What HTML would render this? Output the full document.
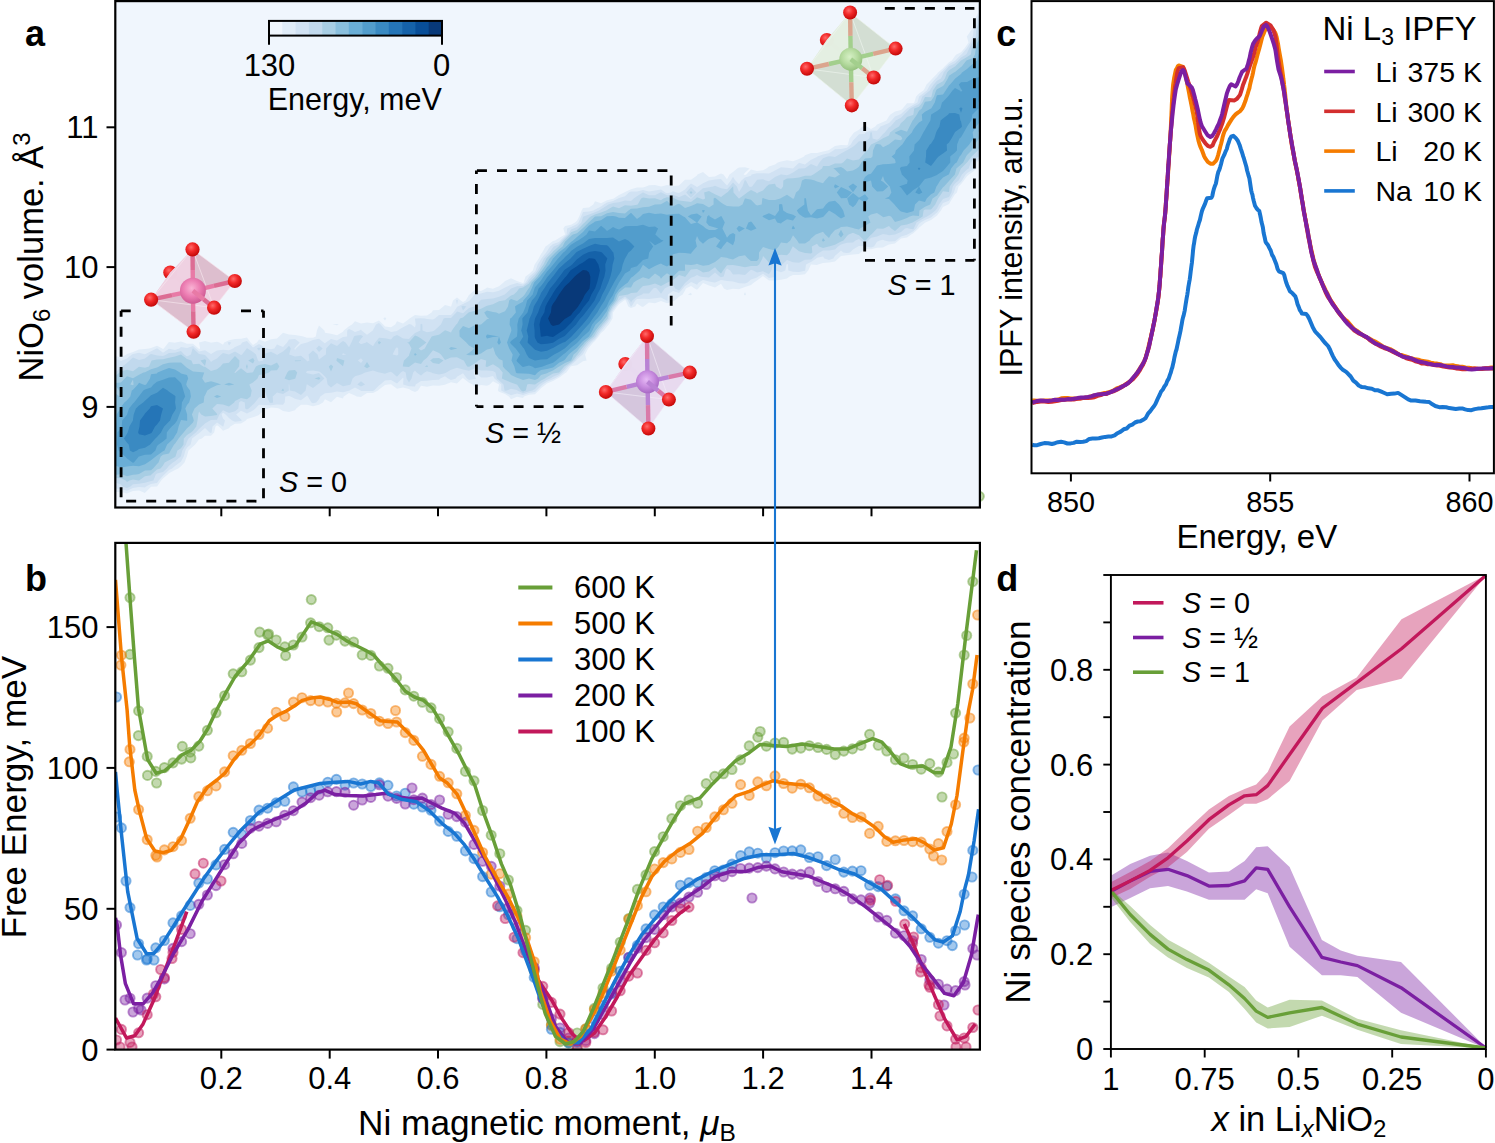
<!DOCTYPE html>
<html><head><meta charset="utf-8"><title>Figure</title>
<style>html,body{margin:0;padding:0;background:#fff;overflow:hidden}svg{display:block}text{font-family:"Liberation Sans", sans-serif}</style>
</head><body>
<svg width="1495" height="1143" viewBox="0 0 1495 1143" font-family='"Liberation Sans", sans-serif'>
<defs><clipPath id="ca"><rect x="115.3" y="1.1" width="864.6" height="506.4"/></clipPath><clipPath id="cb"><rect x="115.3" y="542.9" width="864.6" height="506.7"/></clipPath><clipPath id="cc"><rect x="1031.5" y="1" width="462" height="472.3"/></clipPath></defs>
<circle cx="979.3" cy="496.3" r="4.6" fill="#689F38" fill-opacity="0.4" stroke="#689F38" stroke-opacity="0.5" stroke-width="1.9"/>
<rect x="115.3" y="1.1" width="864.6" height="506.4" fill="#f0f6fd"/>
<g clip-path="url(#ca)"><path fill="#e0ecf8" fill-rule="evenodd" d="M145 493 143.8 492.5 139 490.6 133 490.9 129.2 492.5 127 493.6 123.2 492.5 121 491.9 115 491.9 109 487.9 109 486.5 108.2 480.5 107.7 474.5 107.5 468.5 107.2 462.5 107.2 456.5 107.1 450.5 107.2 444.5 107.3 438.5 107.4 432.5 107.4 426.5 107.4 420.5 107.5 414.5 107.3 408.5 107.2 402.5 107.4 396.5 107.7 390.5 107.4 384.5 107.5 378.5 107.7 372.5 107.9 366.5 108.6 360.5 109 356.1 115 355.9 121 357.6 126.5 354.5 127 354 133 351.9 139 349.6 145 348.9 149 348.5 151 348.1 157 345.7 162.3 348.5 163 349 163.8 348.5 168.5 342.5 169 342 173.5 342.5 175 342.8 175.5 342.5 181 341.6 183.9 342.5 187 343.7 193 343.7 198.6 348.5 199 348.9 200.1 348.5 199 342.5 205 341.1 210.6 342.5 211 342.8 211.9 342.5 217 341.7 219.3 342.5 223 344.7 224.2 342.5 229 340.2 235 339.1 241 338.7 247 337.4 250.6 342.5 253 344.9 256.9 342.5 259 339.5 265 341.8 271 339.2 277 338.6 279.1 336.5 283 332.7 289 334.6 295 335 301 336.1 303.3 336.5 307 337.8 313 337.8 315.8 336.5 316.9 330.5 319 325.4 324.4 330.5 325 332.7 331 333.8 337 335.2 343 331.7 343.7 330.5 349 326.2 352 324.5 355 321.2 361 323.5 367 322.6 373 323.3 379 320.5 383.2 324.5 385 326.6 391 327.3 395.2 324.5 397 321.2 403 323.6 409 319 409.5 318.5 415 315.1 421 315.8 427 315.5 431.6 312.5 433 310.3 439 310 443.3 306.5 445 305 450.8 306.5 451 307 451.1 306.5 453 300.5 457 297.6 460.8 300.5 463 302 465.7 300.5 469 295.1 469.6 294.5 475 289.8 481 291 485.9 288.5 487 287.6 491.8 288.5 493 288.7 493.4 288.5 499 286.3 503.5 282.5 505 281.1 511 278.3 517 281 521.3 282.5 523 283 523.6 282.5 525.5 276.5 529 273.9 532.8 270.5 534.6 264.5 535 264 538.7 258.5 541 254.1 542.2 252.5 545.5 246.5 547 245.5 553 241 555.1 240.5 559 238 565 234.6 565.1 234.5 565 234.2 563.3 228.5 565 226 571 224.7 575 222.5 577 220.7 579.2 216.5 581.6 210.5 583 207.9 589 207.4 593.3 204.5 595 201.3 601 203.3 607 200.2 613 198.8 613.7 198.5 619 195 624.2 192.5 625 191.9 631 189.2 637 187.4 643 187.4 646.1 186.5 649 185.3 655 185.1 660.9 186.5 661 186.5 661.3 186.5 667 184.9 673 185.9 679 185.5 684.2 180.5 685 179.8 691 179.8 697 175.6 697.4 174.5 703 172 705.9 174.5 709 177 715 176.4 718.9 174.5 721 173.5 723.5 174.5 727 179.2 729.5 174.5 733 171.9 737.2 168.5 739 167.5 745 167.2 749.6 168.5 745 172.8 743.6 174.5 745 175.1 746.3 174.5 751 169.6 757 171 763 170.3 766.4 168.5 769 166.5 775 164.5 777.8 162.5 781 161.5 787 160.2 793 161.2 799 158.9 804.1 156.5 805 155.3 811 153.1 817 152.9 823 151.4 827.6 150.5 829 149.9 835 145.9 841 145.1 847 145.2 847.9 144.5 849.4 138.5 853 133.7 854.1 132.5 859 129.7 862.3 126.5 865 125.7 866.9 126.5 871 128.9 875.3 126.5 877 124.4 883 122 886.4 120.5 889 116.2 890.4 114.5 895 111.5 901 110 902.7 108.5 907 103.3 913 103.3 914.3 102.5 916.1 96.5 919 93.6 923.4 90.5 925 87.7 926.5 84.5 931 80 932.3 78.5 937 73.8 938 72.5 943 68.3 944.6 66.5 949 62.2 951.8 60.5 955 55.9 956.4 54.5 961 52.3 964.3 48.5 967 44.8 968.5 42.5 967 37.1 966.7 36.5 967 36.2 971 30.5 973 27.6 974.5 24.5 975.2 18.5 978.4 12.5 978.3 6.5 978.8 0.5 979 0.3 985 -5.2 985.6 0.5 985.7 6.5 986.4 12.5 986.4 18.5 986.5 24.5 986.8 30.5 986.9 36.5 986.9 42.5 986.9 48.5 986.9 54.5 987.1 60.5 987.1 66.5 987.1 72.5 987 78.5 987.1 84.5 987.2 90.5 987 96.5 987 102.5 987 108.5 986.9 114.5 986.7 120.5 986.5 126.5 986.4 132.5 986 138.5 985.2 144.5 985 150.5 985 151.3 983.7 156.5 979 160.8 976.8 162.5 976.7 168.5 973 171.7 969 174.5 967 176.3 963.9 180.5 961 184.3 958.6 186.5 956.9 192.5 955 194.3 952.3 198.5 949 204.1 948.1 204.5 943 207.1 941 210.5 937 215.5 935.8 216.5 931 220 925.5 222.5 925 222.8 919 227.7 918.5 228.5 913 233.5 911.2 234.5 907 237.4 901 238.5 898.6 240.5 895 243.4 889 244.5 884.8 246.5 883 247.6 877 247.8 871 249.3 865 249 860.6 252.5 859 253.9 853 254.5 847 255.3 841 255.9 838.3 258.5 835 261.5 829 262.4 823 263 818 264.5 817 264.9 811.4 264.5 811 264.5 811 264.5 808.2 270.5 805 274.3 799 274.9 793 275 789.6 276.5 787 278.4 781 279.7 775 280.5 769 280.6 763.5 276.5 763 276.1 762.4 276.5 757 280.5 754 282.5 751 285 745 287 740.8 288.5 739 289.2 733 288.7 727 290 723.9 288.5 721 283.8 715 287.6 709 285.5 703 283 698.3 288.5 697 289.7 694.7 288.5 691 285.9 685.9 288.5 685 290.4 682.7 294.5 679 296.7 674.8 300.5 673 301.5 667 303.2 661 301 655 303.3 649 302.6 643.6 306.5 643 306.9 641.5 306.5 637 303.4 635.2 306.5 631 308.1 628.3 306.5 625.9 300.5 625 299.9 624 300.5 619 304.3 617.2 306.5 613 312.4 613 312.5 612.5 318.5 608.9 324.5 607 326.6 604 330.5 601 333 598.6 336.5 595 341.1 593.3 342.5 589 347.4 588.1 348.5 585.1 354.5 586.6 360.5 583 361.3 577 365.2 571 366.3 570.7 366.5 566.3 372.5 565 373.3 559 377.7 557.5 378.5 553 381 547 383.6 545.7 384.5 541 388.2 538.8 390.5 535 394.3 529 394.7 524 396.5 523 398 517 396.8 511 399.2 508.9 396.5 505 394 499 391.8 497.9 390.5 499 385 499.1 384.5 499 384.4 493 381.3 489.8 384.5 487 385.7 481 385.1 475 386.9 472.6 384.5 469 382.7 463.5 378.5 463 377.9 462.2 378.5 457 383.5 451 382.2 445.4 384.5 445 384.8 439 385.7 433 385.6 427 386.8 421 385.8 418 390.5 415 392 411.3 390.5 409 389.1 403 387.4 397 388.7 391.3 384.5 391 384.3 388 384.5 385 385 379 389.5 378 390.5 373 393 367 393.1 361.6 396.5 361 396.9 356.6 396.5 355 395.5 349 393.1 343.7 396.5 343 398.4 337 396.7 331 402.3 325 399.3 323 402.5 319 404.8 313 406.3 307 404.7 301 404.8 296.3 408.5 295 410.2 289 411.9 283 411.1 279.1 408.5 277 407.9 271 407.5 268.1 408.5 265 409.5 259.3 414.5 259 415.1 253 417.3 247 419 245.9 420.5 241 423.5 235 423.8 230.3 426.5 229 428.2 223 430.7 218.9 426.5 217 425.2 215.5 426.5 214.2 432.5 211 435.8 205 435.7 201.9 438.5 199 439.6 195.2 444.5 193 446.4 188.5 450.5 187 455.9 186.8 456.5 184.5 462.5 181 466.3 178.2 468.5 175 470 169 473.3 167.7 474.5 163 478.5 161.2 480.5 157.1 486.5 157 486.6 151 486.7 145.3 492.5 145 493ZM691 295.2 687.9 294.5 691 292.8 691.8 294.5 691 295.2ZM745 295.4 743.9 294.5 745 292 746 294.5 745 295.4ZM385 320.4 383.3 318.5 385 317.3 386.3 318.5 385 320.4ZM337 325.3 332.4 324.5 337 324.1 338.7 324.5 337 325.3Z"/>
<path fill="#d1e2f3" fill-rule="evenodd" d="M145 487.5 139 487 133 488.1 127 490.7 121 488.9 115 488.6 112.6 486.5 109 482.9 108.7 480.5 108.2 474.5 107.9 468.5 107.6 462.5 107.5 456.5 107.5 450.5 107.6 444.5 107.7 438.5 107.8 432.5 107.8 426.5 107.8 420.5 107.9 414.5 107.6 408.5 107.6 402.5 107.8 396.5 108.1 390.5 107.8 384.5 107.9 378.5 108.1 372.5 108.3 366.5 109 361.2 110.6 360.5 115 358.9 120.3 360.5 121 361 121.9 360.5 127 358.6 131.9 354.5 133 354 139 352.7 145 354.3 151 351.2 156.5 348.5 157 348.3 157.4 348.5 163 352.7 169 348.8 175 350 179.3 348.5 181 347.1 187 347.9 193 346 195.9 348.5 199 351.5 205 350.2 211 353.9 217 350.5 223 349.7 229 350.2 233.1 348.5 235 347 241 344.5 242 342.5 247 340.9 248.2 342.5 253 347.4 259 344.1 265 347.5 267 348.5 271 349.3 274.3 348.5 277 344.4 283 347 287.1 342.5 289 339.6 295 338.9 299.7 342.5 295 347.7 294.4 348.5 295 350 296 348.5 301 344.1 307 342.5 307 342.5 313 340.1 319 338.7 323.8 342.5 325 343.4 325.8 342.5 331 338.9 337 340.5 343 337.1 347.1 336.5 347.2 330.5 349 329 352.4 330.5 355 332 359.5 330.5 361 329.5 361.6 330.5 367 334.7 372.8 330.5 373 330.1 376 324.5 379 322.9 380.6 324.5 385 329.6 388.1 330.5 391 332.1 397 330.9 397.6 330.5 403 327.3 408.4 324.5 409 324 411.3 324.5 415 327.5 415.7 324.5 415 319 414.9 318.5 415 318.4 421 318.2 425 318.5 427 319.1 433 319.5 434.9 318.5 439 315.1 445 314.9 451 314.9 453.4 312.5 457 307.1 457.6 306.5 463 303.9 469 300.9 469.7 300.5 474.6 294.5 475 294.2 481 293.4 487 291.7 493 292.3 499 290.7 503.2 288.5 505 287.5 511 284.7 517 282.9 523 284.5 525.6 282.5 529 276.9 529.4 276.5 535 271.4 535.6 270.5 537.7 264.5 541 259.3 541.4 258.5 546.2 252.5 547 251.3 550 246.5 553 244.1 559 242 560.2 240.5 565 236.1 566.6 234.5 567.1 228.5 571 227.1 577 224 578.5 222.5 581.1 216.5 583 212.1 589 211.5 593.3 210.5 595 209.6 601 206.5 603.8 204.5 607 202.6 613 200.9 618.1 198.5 619 197.9 625 196.3 628.9 192.5 631 191.5 637 191.5 643 189.9 649 191.4 655 190.6 661 189.4 665.4 192.5 667 193.3 670.9 192.5 673 191.3 676.4 192.5 679 193.1 680.1 192.5 685 189.5 687.6 186.5 691 183.5 696.3 186.5 697 187.2 697.9 186.5 703 183.3 708.8 180.5 709 180.4 715 179.4 721 179 722.2 180.5 727 185.4 730.8 180.5 733 176.7 735.4 180.5 739 184.3 741.4 180.5 745 177.6 751 175.8 751.6 174.5 757 173.2 763 173.3 769 173.6 775 170.6 778.7 168.5 781 167.3 787 167.7 793 168.4 799 162.7 805 164.4 807.5 162.5 811 159.7 817 157.1 817.4 156.5 823 154.5 829 153.2 833.3 150.5 835 149.3 841 149 847 147.8 850.8 144.5 853 140.5 855 138.5 859 134.2 865 134.1 865.7 132.5 871 130.6 877 130.8 880.5 126.5 883 125.4 889 123 891.5 120.5 895 116.6 899.9 114.5 901 114 907 108.5 907 108.5 913 105.1 917.4 102.5 919 97 919.1 96.5 925 92 926.9 90.5 930.3 84.5 931 83.8 935.7 78.5 937 77.2 940.7 72.5 943 70.6 946.7 66.5 949 64.3 955 60.8 955.3 60.5 961 54.7 961.4 54.5 966.5 48.5 967 47.8 970.4 42.5 972.7 36.5 973 35.2 973.5 30.5 976.2 24.5 977.2 18.5 979 15.1 980.3 12.5 981.9 6.5 984.1 0.5 985 -0.2 985.1 0.5 985.3 6.5 986 12.5 986 18.5 986.1 24.5 986.4 30.5 986.6 36.5 986.5 42.5 986.6 48.5 986.5 54.5 986.7 60.5 986.7 66.5 986.7 72.5 986.7 78.5 986.7 84.5 986.8 90.5 986.6 96.5 986.7 102.5 986.6 108.5 986.5 114.5 986.3 120.5 986.1 126.5 985.9 132.5 985.6 138.5 985 142.6 983.9 144.5 982.9 150.5 981.4 156.5 979 158.7 974.1 162.5 974.1 168.5 973 169.4 967 173.2 965.7 174.5 962 180.5 961 181.7 955.8 186.5 955 189 953.9 192.5 950.3 198.5 949 200.7 943 203.1 942 204.5 938.6 210.5 937 212.6 932.2 216.5 931 217.4 925 220.1 920.6 222.5 919 223.7 916.2 228.5 913 231.4 907.3 234.5 907 234.7 901 236.4 895.9 240.5 895 241.3 889 241.5 884.5 240.5 883 239.8 879.9 240.5 877 241.7 874 246.5 871 247.4 865.7 246.5 865 246.3 859 245.9 857.9 246.5 853 249.5 849.9 252.5 847 253.1 843.2 252.5 841 250.4 838.9 252.5 835 255.8 833.3 258.5 829 259.9 824.4 258.5 823 256.4 817 257.8 816.3 258.5 811 261.9 806 264.5 805.2 270.5 805 270.7 799 272 793 271.8 788.3 270.5 788 264.5 787 264 786.5 264.5 785.3 270.5 781 272.2 775.7 270.5 775 270.1 774.9 270.5 775 272 775.8 276.5 775 276.9 769 278 767 276.5 763 273.7 758.3 276.5 757 277.4 751 279.4 747.6 282.5 745 283.5 739 283.2 736.5 282.5 733 281.4 727 281.1 721 280.1 715.2 282.5 715 282.6 714.4 282.5 709 281.5 703 280 698.7 282.5 697 284.7 692.4 282.5 691 282.1 690.5 282.5 685 285.9 683 288.5 679 293 673 291 667.9 294.5 667.6 300.5 667 300.7 666.5 300.5 661 297.6 655 298.2 649 299 643 298.7 637 299.1 635.3 300.5 631.4 306.5 631 306.7 630.7 306.5 628 300.5 625 298.2 621.4 300.5 619 302.3 615.7 306.5 613 310.2 611.7 312.5 610.9 318.5 607 323.8 606.3 324.5 601.6 330.5 601 331 597.2 336.5 595 339.3 591.2 342.5 589 345 586.1 348.5 583 353.9 582.6 354.5 577 359.5 576.3 360.5 571 364.9 568.7 366.5 565 370.7 563.3 372.5 559 376 554.5 378.5 553 379.3 547 381.7 542.7 384.5 541 385.9 536.5 390.5 535 392 529 393 523 395.1 517 393.5 511 395.3 505 392.4 501.2 390.5 501.3 384.5 499 382.4 494.5 378.5 493 375.9 487 377.6 481 377.4 476 372.5 475 372 473.8 372.5 475 377.1 476.2 378.5 475 378.9 469 380.1 466.9 378.5 463 373.2 457 376.8 455.9 378.5 451 380 448 378.5 445 376.3 440.3 378.5 439 379.8 433 379.9 427 380.8 421 381.1 415.7 384.5 415 386.5 409 386.2 403.2 384.5 403.4 378.5 403 377.6 402.2 378.5 397 383.4 391 380 385 380.5 380.4 384.5 379 385.6 374 390.5 373 391 367 391 361 390.9 360.6 390.5 355 387.6 349.5 390.5 349 390.7 343 392.3 337 391.4 331 392.7 325 393.3 320.3 396.5 319 399.3 316.2 402.5 313 403.2 311.4 402.5 307.9 396.5 307 395.4 305.9 396.5 301 400.2 295 398.8 290.5 396.5 289 395.9 285.3 396.5 284.7 402.5 283 404.8 277 404.6 271 405.2 265 405 259 404.7 255.4 408.5 253 410.6 247 413.5 241 410.7 236.1 414.5 241 419.3 241.8 420.5 241 421 235 421.7 232.1 420.5 229 417.9 225.6 414.5 223 412.8 221.6 414.5 223 418.5 225 420.5 223.3 426.5 223 426.6 222.9 426.5 217 422.6 212.5 426.5 211.6 432.5 211 433.1 209.6 432.5 205 428.1 199.9 432.5 199 433.3 193 437.8 192.1 438.5 190.6 444.5 187 447.7 185.4 450.5 183.8 456.5 181 461.5 179.7 462.5 175 466 172.1 468.5 169 470.1 164.4 474.5 163 475.7 158.7 480.5 157 482.9 151 483.9 146 486.5 145 487.5ZM457 304.7 456 300.5 457 299.8 458 300.5 457 304.7ZM229 345.5 227.7 342.5 229 341.9 231.4 342.5 229 345.5Z"/>
<path fill="#c1d9ed" fill-rule="evenodd" d="M127 488.1 122.6 486.5 121 484.6 115 482.6 112.9 480.5 109 478.8 108.6 474.5 108.3 468.5 107.9 462.5 107.9 456.5 107.9 450.5 108 444.5 108 438.5 108.2 432.5 108.2 426.5 108.2 420.5 108.3 414.5 108 408.5 108 402.5 108.2 396.5 108.5 390.5 108.2 384.5 108.4 378.5 108.5 372.5 108.8 366.5 109 364.8 113.1 366.5 114.6 372.5 115 372.8 115.3 372.5 121 367.4 122.3 366.5 127 362.9 129.6 360.5 133 357.5 139 359.9 145 358.6 150 354.5 151 354 153.4 354.5 157 355.6 163 356.1 166.4 354.5 169 352.9 175 352.7 181 351.1 184.2 354.5 187 356.6 190.9 354.5 192.6 348.5 193 348.4 193.2 348.5 199 354.1 202.5 354.5 205 355 210.1 360.5 211 362 212.9 360.5 217 358.5 221.1 354.5 223 353.1 229 354.4 235 351.5 240.2 354.5 241 355.3 242.1 354.5 246.7 348.5 247 348 247.5 348.5 253 351.9 256 354.5 258 360.5 259 361.5 263.2 360.5 263.6 354.5 265 353.6 271 351.7 276.5 354.5 277 355.2 277.7 354.5 283 351.5 286.5 348.5 289 345.7 290.8 348.5 289.1 354.5 295 356.4 301 355.8 306.6 360.5 307 361.4 309.4 360.5 308.6 354.5 313 350.4 317.6 354.5 319 359.6 325 355 325.9 354.5 326.2 348.5 331 343.2 337 346 340.9 342.5 343 341.1 345.6 342.5 349 347.2 351.4 342.5 354 336.5 355 335.8 361 335 363.1 336.5 361 338.8 358.7 342.5 361 344.3 366.2 342.5 367 341.8 367.5 342.5 373 346.3 375.2 342.5 379 337.8 385 338.2 391 339.5 393.5 336.5 397 335 399.8 336.5 403 338.5 409 338.9 411.2 336.5 415 332.9 420.4 330.5 420.5 324.5 421 323.8 422.4 324.5 422.5 330.5 427 332.3 433 331.3 434.4 330.5 439 326.3 440.9 324.5 443.7 318.5 445 318 451 317.9 456.3 312.5 457 311.5 460.3 312.5 463 313.3 463.9 312.5 469 307.9 474.3 306.5 475 306.2 480.4 300.5 481 299.7 487 298.9 493 298.6 499 296.8 504.7 294.5 505 294.3 511 288.7 511.2 288.5 517 286.2 523 286.1 527.5 282.5 529 280 532.3 276.5 535 274.1 537.6 270.5 540.9 264.5 541 264.3 543.9 258.5 547 254.9 549.4 252.5 553 247.4 554 246.5 559 244.2 561.9 240.5 565 237.6 568.2 234.5 571 229.6 573.5 228.5 577 226.9 581.4 222.5 583 217.1 583.6 216.5 589 214.6 595 212.3 599.1 210.5 601 209.3 607 205.5 608.4 204.5 613 203 619 202.3 625 200.5 631 201 633.7 198.5 637 196.2 642.8 192.5 643 192.4 643.2 192.5 649 195.2 655 195.2 660.3 192.5 661 192.2 661.4 192.5 667 195.2 673 194.8 679 197.2 685 194.6 690.3 198.5 691 198.8 691.4 198.5 697 193.1 697.9 192.5 703 188.2 709 187.3 713 186.5 715 185.7 716.9 186.5 721 188.2 727 189.2 729.6 186.5 733 182.4 736.9 186.5 739 192.1 742.5 186.5 744.6 180.5 745 180.2 745.9 180.5 749.1 186.5 751 187.1 752.1 186.5 756.6 180.5 757 179.8 763 179.2 765.7 180.5 769 181.2 770.2 180.5 775 176.9 780.7 174.5 781 174.3 781.6 174.5 787 175.3 789.1 174.5 793 172.5 799 168.6 800.4 168.5 805 168.3 811 163.9 817 166.4 819.4 162.5 823 158.3 827.7 156.5 829 156.2 832.2 156.5 835 157.1 835.8 156.5 841 153.6 846.4 150.5 847 150.3 853 146.8 855.7 144.5 859 141.2 865 141.4 869.4 138.5 870.3 132.5 871 132.3 871.9 132.5 872.6 138.5 877 139.8 879.2 138.5 883 133.9 884.8 132.5 889 127.3 890.5 126.5 895 121.6 895.6 120.5 901 117.7 904.1 114.5 907 111.7 910.2 108.5 913 107 919 103.9 920.1 102.5 922.3 96.5 925 94.4 929.8 90.5 931 88.4 933.7 84.5 937 80.8 940.9 78.5 943 74.4 943.6 72.5 948.8 66.5 949 66.3 955 63.6 958.2 60.5 961 57.6 966.1 54.5 967 53.3 969.1 48.5 972.3 42.5 973 40.8 975.7 36.5 976.3 30.5 978 24.5 979 19.3 979.4 18.5 982.2 12.5 985 7.9 985.6 12.5 985.5 18.5 985.7 24.5 986 30.5 986.2 36.5 986.2 42.5 986.2 48.5 986.1 54.5 986.4 60.5 986.4 66.5 986.4 72.5 986.3 78.5 986.4 84.5 986.5 90.5 986.3 96.5 986.3 102.5 986.2 108.5 986.1 114.5 985.9 120.5 985.7 126.5 985.5 132.5 985.1 138.5 985 139.3 981.9 144.5 980.7 150.5 979.1 156.5 979 156.5 973 159.8 970.7 162.5 968.7 168.5 967 169.4 961.9 174.5 961 176.3 958.6 180.5 955 183.6 952.8 186.5 951.4 192.5 949 196.9 944.3 198.5 943 198.9 939 204.5 937 208.6 935.4 210.5 931 213.9 927.1 216.5 925 217.4 919 221 916.5 222.5 913.8 228.5 913 229.2 908.4 228.5 907 228.1 905 228.5 901 232 895 234.5 894.9 234.5 889 235.3 886.3 234.5 883 233.9 881.8 234.5 877 236.6 871 237.7 868.5 240.5 865 243.7 860.6 240.5 859 238.9 855.5 240.5 853 242.4 847 242.8 841 244.4 838 246.5 835 249.4 829 250.4 823 250.6 819.6 252.5 817 254.3 812.3 258.5 811 259.4 805 259.7 799 262.7 793 262.2 787 259.9 782.2 264.5 781 266.2 778.7 264.5 775 261.8 773 264.5 771.4 270.5 769 274.3 763 271.2 757 272.4 753.2 270.5 751 269.8 750 270.5 745 275.1 739 274.2 733 274.4 730.2 270.5 727 268.6 725.5 270.5 723.7 276.5 721 277.2 719.7 276.5 715 272.4 710.2 276.5 709 277.4 703 277.1 700.1 276.5 697 275.1 694.5 276.5 691 277.7 685.6 282.5 685 282.9 680.8 288.5 679 290.5 675.2 288.5 673 284.5 667 287.2 664.7 288.5 661 293.8 656.8 288.5 655 287.7 653.2 288.5 649 293.4 643 293.5 642.2 294.5 637 296.5 632.3 300.5 631 302.4 630.1 300.5 625 296.6 619 300.2 618.9 300.5 614.1 306.5 613 308 610.4 312.5 609.3 318.5 607 321.6 604.4 324.5 601 328.7 599.4 330.5 595.7 336.5 595 337.5 589.1 342.5 589 342.6 584.2 348.5 583 350.5 580.1 354.5 577 357.3 574.5 360.5 571 363.4 566.7 366.5 565 368.4 561.2 372.5 559 374.3 553 376.8 550.3 378.5 547 379.7 541 383.3 539.2 384.5 535 389 532.3 390.5 529 391.2 523 393.2 517.4 390.5 517 389.9 511 388.7 506.8 390.5 505 390.7 504.6 390.5 503.5 384.5 499 380.3 496.9 378.5 495.5 372.5 493 371.1 487 370.5 481 370.5 475 368.2 469 370.7 463 369.4 457 367.7 451 369.8 446.3 372.5 445 373.2 439 374.5 433 373.2 431.5 372.5 427 371.2 424.6 372.5 421 375.6 416.6 372.5 415 370.5 413.2 372.5 411.6 378.5 409 382.4 406.6 378.5 405.7 372.5 403 371.1 400.8 372.5 397 376.8 392.1 372.5 391 371.8 388.1 372.5 385 373.7 379.7 372.5 379 372.4 373 370.6 367 372.1 365.1 372.5 361 374.6 355 376.3 352.6 378.5 350.5 384.5 349 385.1 343 386.3 339.8 384.5 337 383 335 384.5 331 387.5 327.6 384.5 326.6 378.5 325 376.6 320.8 372.5 319 371.5 313 370.4 307 371.1 306 372.5 307 373.2 313 374.4 319 373.1 324.4 378.5 319 383.5 317.5 384.5 313 388 307.3 384.5 307 384.3 306.7 384.5 305.6 390.5 301 395 295 391.6 289.8 390.5 289.3 384.5 289 384.4 288.7 384.5 288.9 390.5 283 393.9 277 392.4 272.7 396.5 273.1 402.5 271 403 269.5 402.5 266.9 396.5 265 391.2 262 396.5 259 397.6 255 402.5 253 404.6 248.7 408.5 247 409.5 245.2 408.5 244.8 402.5 241 401.1 239 402.5 238.3 408.5 235 411.2 229 413.1 223 410.2 219.4 414.5 217 419.7 211 419.9 209.9 420.5 205 423.4 201.7 426.5 199 428.9 195.8 432.5 193 434.8 188.5 438.5 187 441.6 186 444.5 182.3 450.5 181 455.8 180.7 456.5 175 461.2 172.8 462.5 169 465.7 166.8 468.5 163 472 157 473.4 155.8 474.5 153.4 480.5 151 481.1 145 482.8 139 483.7 133 484.3 130.4 486.5 127 488.1ZM691 198.1 686.2 192.5 691 187 696.4 192.5 691 198.1ZM463 310.6 461.4 306.5 463 305.7 466.3 306.5 463 310.6ZM259 350.8 257 348.5 259 347.5 260.5 348.5 259 350.8ZM319 351.9 316.2 348.5 319 345.6 322.7 348.5 319 351.9ZM398.3 354.5 398.2 348.5 397 347.3 395.5 348.5 392.6 354.5 397 355.5 398.3 354.5ZM346.2 354.5 343 353.3 342.2 354.5 343 355.1 346.2 354.5ZM362.9 360.5 361 358.2 357.9 360.5 361 363.1 362.9 360.5ZM361 386.5 357.3 384.5 361 381.2 365 384.5 361 386.5Z"/>
<path fill="#a8cee4" fill-rule="evenodd" d="M523 391.4 521.1 390.5 517 384.6 516.6 384.5 511 382.5 505 380.1 501.9 378.5 502.7 372.5 499 368.1 496.6 366.5 493 364.2 488.2 366.5 487 366.9 485.6 366.5 486.2 360.5 481 359 478.7 360.5 475 363.2 469.7 366.5 469 366.8 467.1 366.5 463.8 360.5 463 360.3 457 357.2 451 357.6 445 359.9 440.9 354.5 439 352.9 433 350.2 429.6 354.5 427 357.8 423.5 360.5 421 364.1 415 362.6 409.5 366.5 409 367 403 366.6 402.8 366.5 403 364.5 404 360.5 409 355.7 409.2 354.5 411.5 348.5 409 343.8 407.1 342.5 409 342.2 414.1 336.5 415 335.6 417.7 336.5 421 338.5 426.4 342.5 421 346.7 418.6 348.5 421 350.5 424.8 348.5 427 344.3 428.1 342.5 431.7 336.5 433 336.1 439 334.8 444.7 330.5 445 330.2 446 330.5 451 332.6 451.9 330.5 456.2 324.5 457 324 460 318.5 463 317.4 468.6 312.5 469 312.2 475 310.7 481 308.7 485.4 306.5 487 305.8 493 304.2 499 301.3 503.4 300.5 505 300.3 511 295.4 513.8 294.5 517 291.6 519.1 288.5 523 287.6 529 283.4 529.5 282.5 535 276.7 535.2 276.5 539.6 270.5 541 268 543.5 264.5 546.4 258.5 547 257.8 552.3 252.5 553 251.5 558.7 246.5 559 246.3 563.6 240.5 565 239.2 569.7 234.5 571 232.3 577 229.9 578.7 228.5 583 224.1 584.7 222.5 589 218.1 590.7 216.5 595 214.4 601 212.6 606.3 210.5 607 210.1 613 206.4 619 208.3 625 205.2 631 205.8 637 204.8 637.7 204.5 641.1 198.5 643 197.4 649 198.4 655 198.3 655.6 198.5 661 200.3 663.4 198.5 667 197.2 673 197.7 674.7 198.5 679 200.6 685 201.3 691 202.1 695.7 198.5 697 197.3 700.5 198.5 703 199.5 705.1 198.5 704.1 192.5 709 191.1 711.6 192.5 715 194.2 721 197.1 727 192.5 727.3 192.5 732.9 186.5 733 186.3 733.2 186.5 733.5 192.5 738.8 198.5 739 198.6 739.1 198.5 745 194.3 747.2 192.5 751 190.1 756.1 192.5 757 193.6 758.3 192.5 763 190.4 766.5 186.5 769 184.6 775 183.7 776.2 186.5 781 189.3 783.1 186.5 783.3 180.5 787 178.5 793 178.2 799 177.5 805 175.8 811 175.7 813.3 174.5 817 172.1 822 168.5 823 166 829 165.9 835 163.5 841 163.6 843.1 162.5 847 158.6 853 160.4 859 159.6 861.5 156.5 865 152.6 867.3 150.5 871 144.6 871 144.5 877 141.8 882.7 138.5 883 138.2 889 135.5 890.1 132.5 895 128.8 899 126.5 901 123 904 120.5 907 116.9 913 115 913.4 114.5 914.2 108.5 919 106.7 922.4 102.5 925 97.1 931 97.3 931.5 96.5 932.9 90.5 937 84.5 937.1 84.5 943 81.3 944.9 78.5 947.1 72.5 949 70.3 955 66.5 955.1 66.5 961 60.6 961.1 60.5 967 57 970.9 54.5 971.7 48.5 973 45.9 974.7 42.5 978.6 36.5 979 32.2 979.2 30.5 981.1 24.5 983.7 18.5 984.1 12.5 985 11 985.2 12.5 985.1 18.5 985.3 24.5 985.7 30.5 985.8 36.5 985.8 42.5 985.8 48.5 985.8 54.5 986 60.5 986 66.5 986 72.5 985.9 78.5 986 84.5 986.1 90.5 985.9 96.5 986 102.5 985.9 108.5 985.8 114.5 985.5 120.5 985.3 126.5 985.1 132.5 985 133.8 982.4 138.5 979.9 144.5 979 148.4 977.7 150.5 973 155.2 971.7 156.5 967 162.4 966.9 162.5 961 168.4 960.9 168.5 958.4 174.5 955 179.3 953.9 180.5 949.7 186.5 949 191.9 943 191.3 942.2 192.5 938.1 198.5 937 200.8 935.3 204.5 931 209.6 925 209.5 923.6 210.5 922.6 216.5 919 218.7 913 222.2 912.6 222.5 907 224.5 901 225.6 897.8 228.5 895 231 891.3 228.5 889 226.1 883.8 228.5 883 228.8 877 228.5 877 228.5 877 228.5 871.4 234.5 871 234.6 865.6 240.5 865 241.1 864.2 240.5 859 235.3 856.9 234.5 853 232.7 848.6 234.5 847 235.9 843.5 240.5 841 241.5 835 244.8 829 246.4 828.8 246.5 823 247.9 819 246.5 817 243.7 811.8 246.5 812.3 252.5 811 253.5 805 253.1 803.4 252.5 799 251.2 793.1 246.5 793 246.3 792.7 246.5 789.7 252.5 787 255.2 781 254.8 775 256.1 771.2 258.5 769 262.7 765.4 258.5 763 256.1 762.4 258.5 759.2 264.5 757 265.9 751 265.9 745 267.2 739 265.9 733 264.9 727 265.2 723 270.5 721 273.5 717.6 270.5 715 267.3 710.4 270.5 709 271.6 703 272.4 699.9 270.5 697 268.9 691 269.6 690.1 270.5 685.6 276.5 685 277 684 276.5 679 274.9 677.4 276.5 673 279.9 667.5 282.5 667 282.8 661 286 655 283.4 649 285.3 643 286 640.4 288.5 637 292.5 631 293 628 294.5 625 295 619 296.1 617.1 300.5 613 305.8 612.4 306.5 609.2 312.5 607.7 318.5 607 319.4 602.5 324.5 601 326.4 597.4 330.5 595 334.8 593.9 336.5 589 340.5 586.8 342.5 583 347.3 581.9 348.5 577.6 354.5 577 355 572.8 360.5 571 362 565 366.1 564.3 366.5 559.1 372.5 559 372.6 553 373.6 547 377.1 544.9 378.5 541 380.5 535.1 384.5 535 384.6 534.1 384.5 529 384.1 527.2 384.5 525.8 390.5 523 391.4ZM691 194 689.7 192.5 691 191 692.5 192.5 691 194ZM379 344.4 377.9 342.5 379 341.1 381.1 342.5 379 344.4ZM139 480.5 138.7 480.5 133 479.6 129.6 480.5 127 482.1 125.7 480.5 121 478.3 115 478.1 109.3 474.5 109 474.1 108.7 468.5 108.3 462.5 108.3 456.5 108.3 450.5 108.4 444.5 108.4 438.5 108.6 432.5 108.6 426.5 108.6 420.5 108.7 414.5 108.4 408.5 108.4 402.5 108.6 396.5 109 390.5 108.6 384.5 108.8 378.5 108.9 372.5 109 370.9 109.9 372.5 115 376.3 119.5 372.5 121 371.2 127 369.8 133 371.3 139 366.7 145 367.8 149 366.5 151 361.7 151.7 360.5 157 359.4 163 359.3 169 357.8 175 356.4 181 354.6 187 358.9 191.4 360.5 193 364.3 199 363.7 203.3 366.5 205 366.7 211 371.1 217 369.2 220.5 366.5 223 363.6 229 362.7 230.8 360.5 235 355.9 239.5 360.5 239.1 366.5 235 371.7 234.5 372.5 235 373.2 235.7 372.5 241 368.3 246.4 372.5 247 373.1 251.6 372.5 253 372.2 255.9 366.5 259 364.9 265 364.1 271 365.4 277 362.5 279.4 366.5 277 370.3 271 370.6 268.9 372.5 265 374 259 374.9 257.5 378.5 253 382.6 249.3 384.5 251.7 390.5 250.6 396.5 247 399.3 241 397.9 235 401.1 234.2 402.5 229 406.6 223 404.6 217 403.9 212.3 408.5 217 413.8 217.2 414.5 217 414.9 211 416 205 416.5 201.2 414.5 199 411.5 198.3 414.5 197.5 420.5 196.3 426.5 193 430.8 191 432.5 187 435 183.8 438.5 183.5 444.5 181 448.3 177.4 450.5 175.5 456.5 175 456.9 169 460.2 164.7 462.5 163 465.5 160.5 468.5 157 469.5 151.4 474.5 151 475.2 145 476.3 139.1 480.5 139 480.5ZM205 365.9 200.5 360.5 205 359.2 206.2 360.5 205 365.9ZM253 363.4 248.2 360.5 253 357.9 254.5 360.5 253 363.4ZM301 361 295 361.2 294.8 360.5 295 360.4 301 360.4 301.1 360.5 301 361ZM343 366.2 337 361.2 336.4 360.5 337 358 343 360 344.4 360.5 343 366.2ZM439 363.9 433 363.1 430.2 360.5 433 358.3 439 358.1 443.5 360.5 439 363.9ZM247 369.4 245.9 366.5 247 364.1 247.8 366.5 247 369.4ZM331 371.4 328.8 366.5 331 364.4 333.2 366.5 331 371.4ZM367 368.3 364.1 366.5 367 362.1 369.9 366.5 367 368.3ZM427 367.1 424.8 366.5 427 365.2 428.2 366.5 427 367.1ZM295 378.8 289 380.3 284.5 378.5 287.3 372.5 289 370.5 295 370.1 297.2 372.5 295.3 378.5 295 378.8ZM319 379.8 314.6 378.5 319 377.1 320.4 378.5 319 379.8ZM283 391.1 281.4 390.5 283 388.5 284.1 390.5 283 391.1Z"/>
<path fill="#8abfdd" fill-rule="evenodd" d="M535 379.9 529 378.6 523 380.1 519.2 378.5 517 377.7 511 375.1 508.9 372.5 505 369 502.9 366.5 502.6 360.5 499 359.1 495.5 354.5 493.5 348.5 493 347.1 491.3 348.5 487 349.5 481 353.6 478.2 354.5 475 355.2 469 355.3 466.1 354.5 469 353.1 474.3 348.5 469 345.4 466.3 342.5 463 339.5 459.6 336.5 459.4 330.5 463 326.1 469 328.3 475 325 481 324.6 481.1 324.5 487 319.2 489.2 318.5 487 317.2 484.2 312.5 487 310.6 493 311.9 496.4 312.5 499 313.7 501.9 312.5 505 311.3 508 306.5 509.2 300.5 511 299 515.4 300.5 517 301.1 517.8 300.5 523 296.4 524.7 294.5 528.5 288.5 529 288.3 531.8 282.5 535 279.2 537.6 276.5 541 271.6 541.9 270.5 546.1 264.5 547 262.7 549.6 258.5 553 255.1 555.5 252.5 559 249.3 562.6 246.5 565 241.7 566.4 240.5 571 236.1 572.9 234.5 577 233.2 582.5 228.5 583 228 588.7 222.5 589 222.2 595 216.5 595.3 216.5 601 216.2 607 213.3 613 212 619 213.1 625 213.6 628.5 210.5 631 208.8 637 208.4 643 207.2 649 206.8 654.9 204.5 655 204.5 661 204.3 667 200.8 670.6 204.5 673 206.6 676.8 204.5 679 203.8 680.5 204.5 685 208 691 206.1 694.6 204.5 697 203.3 703 204 703.8 204.5 709 207.4 713.6 204.5 713.6 198.5 715 197.8 716.1 198.5 721 202.6 724.1 204.5 727 206.1 733 206.5 739 206.4 742.5 204.5 744.9 198.5 745 198.4 745.7 198.5 751 199.8 755.5 204.5 757 205.5 761.7 204.5 762.3 198.5 763 197.9 764.1 198.5 769 199.9 775 200.1 780.3 198.5 781 198 787 194.7 792.6 198.5 793 198.7 793.9 198.5 796 192.5 799 190 800.6 186.5 802 180.5 805 178.9 811 179.5 814.8 180.5 817 181.4 823 183.3 825.1 180.5 829 176.2 835 177.4 840 174.5 835 169.5 833.3 168.5 835 167.9 841 167.1 843.7 168.5 847 171.5 853 170.5 856.6 168.5 859 166.8 861.4 162.5 865 158.4 871 158 872.5 156.5 873 150.5 875.6 144.5 877 143.9 880.5 144.5 883 147.2 888.5 144.5 889 144.3 895 139.5 901 140.2 902.3 138.5 901 136.2 895 133.3 894.9 132.5 895 132.4 901 129.8 907 131.8 909.6 126.5 912.6 120.5 913 120.2 917 114.5 919 110.8 921.8 108.5 924.6 102.5 925 101.7 931 100.9 934 96.5 936.1 90.5 937 89.2 943 86.1 944.3 84.5 947.8 78.5 949 75.7 953.9 72.5 955 71.9 961 67 961.8 66.5 966.4 60.5 967 60.2 973 58 975 54.5 975.8 48.5 977.4 42.5 979 40 981.4 36.5 982.6 30.5 985 25.9 985.3 30.5 985.5 36.5 985.4 42.5 985.5 48.5 985.4 54.5 985.7 60.5 985.6 66.5 985.7 72.5 985.6 78.5 985.7 84.5 985.8 90.5 985.6 96.5 985.6 102.5 985.5 108.5 985.4 114.5 985.1 120.5 985 123.9 983.6 126.5 979 131.5 978.3 132.5 978.9 138.5 974.7 144.5 973 148.3 971.5 150.5 967 155 966.1 156.5 963.2 162.5 961 164.6 956.4 168.5 955 174.1 954.9 174.5 949.4 180.5 949 181.1 944 186.5 943 187.2 939.2 192.5 937 195.4 932.5 198.5 931 202.6 930.2 204.5 925 206.7 919.4 210.5 919 215.9 913 215.6 909.7 216.5 907 218.1 901 220.2 895 222 891.1 216.5 889 215.8 886.2 216.5 883 217.3 882.4 216.5 877 213 871 214.5 868.2 216.5 870.5 222.5 865 225.7 860 228.5 859 229.4 854.3 228.5 853 228.1 847 226.4 841 227.1 838.8 228.5 835 230 830.9 234.5 829 237.9 825.2 234.5 823 231.8 817 234 815.7 234.5 811 238.4 809.6 240.5 805 243.4 799 243.5 797.2 240.5 793 235.3 790.3 240.5 787 243.3 781 242.6 778.6 246.5 775 250.4 769 248.9 763 247.1 759 252.5 758.9 258.5 757 260.9 751 261 747.9 258.5 745 255.2 739 256.3 734.7 258.5 733 259.6 728.7 258.5 727 257.8 721 257 719.5 258.5 715 261.9 709.7 264.5 709 265 703 265.7 698.8 264.5 697 263.7 694.9 264.5 691 265.1 685.4 264.5 685 264.4 684.9 264.5 685 266 685.1 270.5 685 270.7 679 270.7 673.1 276.5 673 276.6 672.5 276.5 667 273.3 662.9 276.5 661 278.7 659.7 276.5 655 273.5 651.6 276.5 649 279 643 277.3 637 280.3 633.7 282.5 631 287.4 625 287.5 623.8 288.5 619 292.6 617.6 294.5 615.2 300.5 613 303.4 610.6 306.5 607.9 312.5 607 315.9 605.1 318.5 601 323.7 600.1 324.5 595.4 330.5 595 331.2 591.4 336.5 589 338.5 584.5 342.5 583 344.4 579.3 348.5 577 351.7 573.6 354.5 571.1 360.5 571 360.6 565 363.1 559.1 366.5 559 366.6 553 370.5 548.3 372.5 547 373.2 541 375.1 538.2 378.5 535 379.9ZM841 237.5 838.4 234.5 841 229.7 843.5 234.5 841 237.5ZM823 241.8 822 240.5 823 238 825 240.5 823 241.8ZM457 348.6 451 349.9 449 348.5 451 347 457 348.2 457.2 348.5 457 348.6ZM415 355.8 414.1 354.5 415 353 416.8 354.5 415 355.8ZM133 474.8 127 476.3 122.5 474.5 121 473.8 118.6 474.5 115 475.1 114.1 474.5 111 468.5 109 467.1 108.7 462.5 108.7 456.5 108.7 450.5 108.8 444.5 108.8 438.5 109 432.5 109 430.7 109.6 426.5 109.9 420.5 110.3 414.5 109 412.7 108.8 408.5 108.7 402.5 109 397.2 109.7 396.5 115 393 119.6 396.5 121 397.9 122.5 396.5 121 393.4 119.3 390.5 115 385.6 111.5 384.5 115 383 121 382.6 124.7 378.5 127 376.3 133 378.3 139 374.8 143.5 372.5 145 372.2 151 369.3 157 367.5 159 366.5 163 364.3 169 362.7 175 362.6 181 362.5 185.5 366.5 187 367.7 193 371.6 199 372 204.2 372.5 202.2 378.5 205 382.7 211 381.2 217 383 221.1 384.5 217 385.2 211 387.9 207.3 390.5 205 395.6 204.3 396.5 203.7 402.5 199 404.5 194.5 408.5 193 411.9 191.9 414.5 193 417.6 193.8 420.5 193 422.4 189.1 426.5 187 428.3 183.6 432.5 181 435.4 178.6 438.5 175 443.7 174.1 444.5 170.6 450.5 169 453.4 163 454.7 160.7 456.5 158.5 462.5 157 464.1 153.1 468.5 151 470.3 145 470.4 139 474 136.4 474.5 133 474.8ZM133.6 384.5 133 379.6 130.3 384.5 133 385.2 133.6 384.5ZM229 385.5 224.2 384.5 229 382.8 234.3 384.5 229 385.5ZM217 398.1 214 396.5 217 394.9 221.3 396.5 217 398.1Z"/>
<path fill="#6aaed6" fill-rule="evenodd" d="M913 211.2 907 212.9 901 211.5 899.7 210.5 895 205.3 894.5 204.5 889 198.9 884.8 198.5 889 196.8 891.4 192.5 889.8 186.5 889 185.7 884.4 180.5 883 176.1 880.9 180.5 883 181.7 888.3 186.5 883 191.3 877 191.4 872.2 186.5 871 180.5 865 182.2 863.2 180.5 865 177 868.1 174.5 871 173.8 874.9 168.5 877 165.6 883 164.2 889 164.1 895 163.3 895.7 162.5 895 159.4 891.6 156.5 895 153.8 895.8 150.5 901 145.5 902.3 144.5 906.2 138.5 907 137.4 911.9 132.5 913 130 915.5 126.5 919 122.4 922.3 120.5 921.8 114.5 925 111.7 931 108.6 931.2 108.5 934.8 102.5 936.5 96.5 937 95.2 943 94.5 945.7 90.5 949 85.4 950.1 84.5 955 78.7 955.2 78.5 961 74.1 962 72.5 967 68.9 969.7 66.5 973 63.7 977.1 60.5 978.5 54.5 979 52.9 982.4 48.5 983.2 42.5 984.2 36.5 985 33.6 985.1 36.5 985.1 42.5 985.1 48.5 985 54.5 985.3 60.5 985.3 66.5 985.3 72.5 985.2 78.5 985.3 84.5 985.4 90.5 985.2 96.5 985.2 102.5 985.1 108.5 985 114.5 985 114.8 980.5 120.5 979 122.9 976.1 126.5 973 131.8 972.6 132.5 973 134.7 973.5 138.5 973 139.1 969.2 144.5 967 147.1 963.6 150.5 961 154.9 959.6 156.5 956.7 162.5 955 163.6 951.1 168.5 949 174.2 948.7 174.5 943 177.5 940.2 180.5 937 185.7 936.4 186.5 934.3 192.5 931 194.3 926.7 198.5 925 201.9 919 200.6 915 204.5 913.9 210.5 913 211.2ZM835 188.5 834 186.5 835 184.3 839.3 186.5 835 188.5ZM853 192.2 848.5 186.5 853 183.6 857.1 186.5 853 192.2ZM847 198.1 841 198.2 836.8 192.5 841 187 847 189.8 852.1 192.5 847 198.1ZM841 218.6 838.1 216.5 835 213.9 829 210.5 823.6 216.5 823 217 817 218.5 811 217.2 805 217.7 802.5 216.5 799 214.1 796.8 210.5 799 208.5 804.4 204.5 804.3 198.5 805 198 806 198.5 806.8 204.5 807.9 210.5 811 215.5 815.7 210.5 817 209.2 823 208.6 825.9 204.5 829 201.8 835 200.7 839.1 204.5 841 207.1 843.2 210.5 844.9 216.5 841 218.6ZM853 207.3 849.1 204.5 847.2 198.5 853 193 859 197.8 865 194.3 868.5 198.5 865 202.4 859 198.9 855.8 204.5 853 207.3ZM781 223.6 777.1 222.5 775 218.4 769 220.2 763 216.9 762.5 216.5 763 215.8 769 213.2 775 216.1 779 210.5 779 204.5 781 204 782.2 204.5 783.2 210.5 787 212.9 793 214.8 796 216.5 793 220.5 787 219.3 781.9 222.5 781 223.6ZM703 212.9 702 210.5 703 209.9 705 210.5 703 212.9ZM535 375.3 529 373.8 523 373.6 517 373.2 515.9 372.5 514.4 366.5 511.5 360.5 512.7 354.5 511 351.6 509.2 348.5 507 342.5 509.2 336.5 511 331.8 511.4 330.5 511 328 509.6 324.5 510 318.5 511 318.2 515.9 312.5 515 306.5 517 304.9 523 301.8 523.3 300.5 528.6 294.5 529 294 531.7 288.5 534.1 282.5 535 281.6 540 276.5 541 275.1 544.7 270.5 547 267.2 549.5 264.5 553 258.5 553 258.5 558.8 252.5 559 252.3 565 247.8 566.2 246.5 571 241.9 573.1 240.5 577 236.9 580 234.5 583 232.1 586 228.5 589 225.6 593.8 222.5 595 221.4 601 220.2 606.5 216.5 607 216.3 613 216 616 216.5 619 217.8 625 218.1 626.6 216.5 631 212.8 634.6 216.5 637 219 640.5 216.5 643 214.1 649 212.8 655 214 661 213.5 667 214.8 673 214.1 679 213.7 683.4 216.5 685 217.3 689.6 222.5 691 224.1 696.7 222.5 691 218.6 687.8 216.5 691 214.4 697 213.5 701.7 216.5 697.3 222.5 703 226 705.9 228.5 709 230 715 230.1 718.3 228.5 715 227.4 709 225.7 706.3 222.5 707.2 216.5 709 215.1 709.8 216.5 715 219.6 720.3 216.5 721 216.1 721.7 216.5 724.8 222.5 722.4 228.5 725.5 234.5 727 237.8 729.7 234.5 733 233 735.3 234.5 734.8 240.5 733 245.2 727 241.5 722.8 246.5 721 249.2 716.1 246.5 720.3 240.5 715 237.1 709 238.8 706.6 240.5 703 243.7 699.3 240.5 697 235.9 695.5 240.5 696.9 246.5 691.7 252.5 691 253.7 685 253.1 679 252.7 673 254.2 669.9 258.5 669.8 264.5 667 266.5 662.5 264.5 661 263.6 658.3 264.5 655 265.9 649 269.3 643 264.7 639.7 270.5 637 273.1 633 276.5 631 277.8 627.9 282.5 625 284.5 620.1 288.5 619 289.5 615.4 294.5 613.4 300.5 613 301 608.7 306.5 607 311.1 605.9 312.5 601.7 318.5 601 319.4 595.6 324.5 595 325.4 592.5 330.5 589 336.5 589 336.5 583 341 581.6 342.5 577 347.8 576.1 348.5 571 352.5 568.8 354.5 565 359.6 563.9 360.5 559 362.8 554.4 366.5 553 367.4 547 369.1 541 370.1 537.6 372.5 535 375.3ZM751 230.7 745.9 228.5 748.4 222.5 751 221.4 752.1 222.5 756.5 228.5 751 230.7ZM739 231.9 736.5 228.5 739 225.8 744.8 228.5 739 231.9ZM793 229.3 791.7 228.5 793 225.5 795.2 228.5 793 229.3ZM493 336.9 487 338.5 485.9 336.5 487 334.5 493 335.5 499 336.5 493 336.9ZM499 345.1 497.3 342.5 499 336.5 500.9 342.5 499 345.1ZM145 464.3 139 466.2 133 465.8 127 466.5 121 467.4 115 465.5 110.8 462.5 110.1 456.5 110 450.5 111.4 444.5 112 438.5 112.4 432.5 115 427.3 115.7 426.5 116.4 420.5 116.7 414.5 120.3 408.5 121 406.9 124.4 402.5 127 400.2 130.3 396.5 131.8 390.5 133 389.7 137.9 384.5 139 382.8 143.1 384.5 145 385 146.2 384.5 150 378.5 151 374.2 157 373.4 157.6 372.5 163 370.3 169 368.1 175 369.6 179.9 372.5 181 373.5 187 375 188.2 378.5 187 381.5 186.2 384.5 187 386.4 190 390.5 190.9 396.5 189.1 402.5 187 404.9 185.3 408.5 187 414.1 187.1 414.5 187.2 420.5 187 420.7 185 420.5 181 420.1 180.8 420.5 178.6 426.5 177.1 432.5 175 435.7 173.5 438.5 169 442.8 167.1 444.5 164.5 450.5 163 451.3 157 455.4 155.7 456.5 151 460.2 147.7 462.5 145 464.3Z"/>
<path fill="#529dcc" fill-rule="evenodd" d="M907 195.6 904.7 192.5 901 187.5 899.2 186.5 901 185.7 907 183.7 907.7 180.5 907 179.7 901.8 174.5 901 171.8 899.9 168.5 901 167.1 907 166 909.6 162.5 909.3 156.5 913 151.7 914 150.5 914.6 144.5 919 140.3 920.2 138.5 923.3 132.5 925 129.7 926.8 126.5 930.4 120.5 931 115.5 931.2 114.5 937 110.9 940.3 108.5 942 102.5 943 101.7 948 96.5 949 95.2 952.5 90.5 955 88.1 959.8 90.5 961 91.8 962.4 90.5 961 89.1 958.8 84.5 961 82.2 967 81.9 973 78.7 973.2 78.5 979 77.3 979.7 78.5 981.2 84.5 985 86.9 985.1 90.5 985 92.7 981.4 96.5 979 101.6 978.4 102.5 978.4 108.5 973 114 972.3 114.5 971.3 120.5 967.1 126.5 967 126.8 963.8 132.5 961 137.2 959.4 138.5 957.1 144.5 956.9 150.5 955 152.6 950.2 156.5 950.3 162.5 949 164.1 945.2 168.5 943 171 937.5 174.5 937 175.1 931 177.6 925 179.1 923.6 180.5 919 186.5 918.9 186.5 913 190.3 910.7 192.5 907 195.6ZM919 194.3 915.3 192.5 919 186.6 922.3 192.5 919 194.3ZM541 367 535 368.3 532.2 366.5 529 365.4 525 366.5 523 367.1 522.1 366.5 517 361.5 516.5 360.5 517 359.6 520 354.5 517 350.3 515.6 348.5 511 344.1 510.1 342.5 511 340.9 517 336.5 517 336.3 517.5 330.5 517.3 324.5 518.7 318.5 523 312.7 523.2 312.5 525.6 306.5 527.1 300.5 529 298.4 532.7 294.5 534.5 288.5 535 287.2 539.2 282.5 541 280.6 543.5 276.5 547 271.6 548 270.5 553 264.7 553.2 264.5 558 258.5 559 257.4 563.3 252.5 565 251.2 569.2 246.5 571 244.8 577 241.1 578.1 240.5 583 237.2 586.6 234.5 589 230.4 595 231.4 598.3 228.5 601 225.7 604.6 228.5 607 231 611 228.5 613 227 615.9 228.5 619 229.5 621.1 228.5 625 226.3 631 225.9 637 225.9 643 224.7 649 227 655 226.6 658.1 228.5 655.3 234.5 661 239.7 663.6 240.5 661 242.3 655 245.2 649 240.5 649 240.5 649 240.5 649 240.6 653.2 246.5 649.2 252.5 649 253.6 648.2 258.5 643 260 638.5 264.5 637 266.3 631 268.1 630 270.5 625 273.5 623 276.5 619 282.5 619 282.5 615.8 288.5 613.1 294.5 613 294.9 609.3 300.5 607 305.8 606.7 306.5 602 312.5 601 313.9 597.4 318.5 595 320.8 592.1 324.5 589.5 330.5 589 331.3 583.1 336.5 583 336.5 577.5 342.5 577 343.1 571 347.7 570.2 348.5 565 353.2 563.1 354.5 559 358.1 556.1 360.5 553 362.7 547 364.7 542.8 366.5 541 367ZM133 462.7 132.4 462.5 127 458.5 125.2 456.5 121 452.9 118.7 450.5 116.9 444.5 117.3 438.5 117.5 432.5 121 427.8 121.7 426.5 122.2 420.5 127 414.7 127.1 414.5 129 408.5 133 403.5 134.1 402.5 138.8 396.5 139 396.2 143.3 390.5 145 389.5 151 387.5 153.5 384.5 157 381.7 163 379.7 166.3 378.5 169 377.4 175 377.3 176.3 378.5 181 383.1 181.6 384.5 183.4 390.5 185.2 396.5 181.9 402.5 181.5 408.5 181 410.5 179.4 414.5 177.1 420.5 175 423.5 171.7 426.5 169 429.6 166.8 432.5 166.6 438.5 163 441.4 158.6 444.5 157 446 155.4 450.5 151 454.5 145 454.7 139 456.4 138.8 456.5 133.9 462.5 133 462.7Z"/>
<path fill="#3a8ac2" fill-rule="evenodd" d="M961 112.8 959.3 108.5 961 107.3 962.5 108.5 961 112.8ZM931 166.1 925.2 162.5 926 156.5 926.2 150.5 929.9 144.5 931 143.8 934.3 138.5 936.1 132.5 937 130.5 939.5 126.5 940.6 120.5 943 118.5 948.3 114.5 949 113.2 955 112.9 959.3 114.5 960.4 120.5 961 121.2 962 126.5 961 127.8 955 132.1 954.8 132.5 951.5 138.5 949 142.4 946.7 144.5 947 150.5 943 153.5 938.6 156.5 937 158.2 933.8 162.5 931 166.1ZM919 170.3 917.8 168.5 919 167.5 920.5 168.5 919 170.3ZM535 360.5 534.8 360.5 529 358 526.7 354.5 524 348.5 523 347.5 519.5 342.5 523 337.1 523.2 336.5 523 336 521.2 330.5 522.6 324.5 522.3 318.5 523 317.6 527.5 312.5 529 307.1 529.2 306.5 531.9 300.5 535 297.1 536.6 294.5 538.6 288.5 541 286 543.7 282.5 547 277.4 547.8 276.5 553 270.5 553 270.5 557.8 264.5 559 263 563.8 258.5 565 257.1 569.9 252.5 571 251 577 246.7 577.4 246.5 583 243.4 587 240.5 589 239 595 238.1 601 238.1 607 238 613 237.5 617.6 240.5 619 241.5 621.2 240.5 625 238.9 628.2 240.5 631 243 634.4 246.5 631 250.6 628.5 252.5 625.1 258.5 625 258.6 622.7 264.5 621.4 270.5 619 274.6 617.6 276.5 614 282.5 613 284.4 610.8 288.5 607.7 294.5 607 295.6 604.6 300.5 601 306.1 600.7 306.5 597.3 312.5 595 315.4 592.8 318.5 589 323.9 588.4 324.5 583 330.5 583 330.5 578.1 336.5 577 337.7 571 342.4 570.9 342.5 565 348.2 564.6 348.5 559 352 554.1 354.5 553 355.3 547 359.2 541 359.5 535.3 360.5 535 360.5ZM133 452.2 129.9 450.5 128.7 444.5 127 442.8 123.9 438.5 127 433.7 127.7 432.5 129.4 426.5 132.9 420.5 133 419.3 133.7 414.5 135.9 408.5 139 405.6 143.2 402.5 145 400.7 149.7 396.5 151 395.2 157 392.8 159.7 390.5 163 387.8 167.7 390.5 169 391.7 175 395.8 175.5 396.5 175.1 402.5 176 408.5 175 410.5 172.4 414.5 170.1 420.5 169 421.4 164.2 426.5 163 428.6 161 432.5 157 437 155.4 438.5 151 443.6 150.2 444.5 145 447.8 139 449 137 450.5 133 452.2Z"/>
<path fill="#2575b7" fill-rule="evenodd" d="M547 350.8 541 351.8 535 349.7 533.7 348.5 529 344 527.6 342.5 528.3 336.5 526.7 330.5 528.2 324.5 529 321.2 529.6 318.5 532.3 312.5 533.9 306.5 535 304.5 537.5 300.5 540.5 294.5 541 293.1 544.2 288.5 547 283.9 548 282.5 552.9 276.5 553 276.4 557.4 270.5 559 268.5 563.4 264.5 565 263 570.6 258.5 571 258.1 576.1 252.5 577 251.7 583 248.8 588 246.5 589 245.9 595 243.8 601 244.9 607 245.3 608.6 246.5 613 252.2 613.4 252.5 614.3 258.5 613 263.2 612.6 264.5 611.9 270.5 610.4 276.5 608.3 282.5 607 285.2 605.6 288.5 602.3 294.5 601 297.8 599.9 300.5 595.8 306.5 595 307.8 591.6 312.5 589 316.6 587.6 318.5 583 323.9 582.6 324.5 577 330.5 577 330.5 571.5 336.5 571 336.9 565 341.9 563.1 342.5 559 344.6 553 348.1 551.6 348.5 547 350.8ZM151 433.3 145 435.5 139 434.3 138.1 432.5 139 428.6 139.5 426.5 140 420.5 144.4 414.5 145 413.6 149.7 408.5 151 406.3 157 405.1 163 408.5 161.2 414.5 160 420.5 157 424.6 155 426.5 151.9 432.5 151 433.3Z"/>
<path fill="#1562a9" fill-rule="evenodd" d="M553 342.8 547 343.7 541 344.2 537.4 342.5 535 337.9 534.7 336.5 534.6 330.5 533.9 324.5 535 318.5 535 318.5 538.1 312.5 540.2 306.5 541 305.1 543.1 300.5 546.9 294.5 547 294.3 550 288.5 553 284.9 555.1 282.5 559 277.2 559.6 276.5 564 270.5 565 269.6 571 265.4 572.2 264.5 577 259.2 578.1 258.5 583 254.8 587.8 252.5 589 252.1 595 251.1 601 251.9 601.9 252.5 607 258 607.3 258.5 607 259.3 605.2 264.5 605.5 270.5 604.4 276.5 602.2 282.5 601 286.4 600.4 288.5 597.2 294.5 595 299.5 594.5 300.5 590.2 306.5 589 308.1 585.5 312.5 583 315.7 580.3 318.5 577 323.1 576.1 324.5 571 329.4 569.9 330.5 565 335.8 563.8 336.5 559 338.7 553.4 342.5 553 342.8Z"/>
<path fill="#084e98" fill-rule="evenodd" d="M553 337 549.7 336.5 547 335.8 543.1 336.5 541 336.8 540.8 336.5 540.2 330.5 539.5 324.5 540.8 318.5 541 318.1 544.3 312.5 545.5 306.5 547 303.5 548.7 300.5 552.4 294.5 553 293.3 556.1 288.5 559 285 560.9 282.5 565 277.6 566.1 276.5 570.4 270.5 571 270.1 577 266.2 579.3 264.5 583 262.4 588.5 258.5 589 258.2 592.7 258.5 595 258.9 598.4 264.5 599.9 270.5 598.6 276.5 597.1 282.5 595.1 288.5 595 288.6 591.4 294.5 589 300.5 589 300.6 584 306.5 583 307.8 579.8 312.5 577 315.3 574.5 318.5 571 323.1 569.3 324.5 565 328.9 562.8 330.5 559 332.9 553.8 336.5 553 337Z"/>
<path fill="#083979" fill-rule="evenodd" d="M559 324.5 553 326 550.9 324.5 548.1 318.5 550.9 312.5 551.6 306.5 553 303.8 555.4 300.5 559 294.5 559 294.4 563.2 288.5 565 286.2 569.2 282.5 571 280.6 574.7 276.5 577 274.6 582.3 270.5 583 269.9 586.7 270.5 589 272.6 590.3 276.5 590.2 282.5 589.5 288.5 589 289.2 584.9 294.5 583 298.4 581.9 300.5 578.1 306.5 577 308.1 572.8 312.5 571 315.3 565.6 318.5 565 318.8 559.1 324.5 559 324.5Z"/></g>
<clipPath id="db0"><path clip-rule="evenodd" d="M0 0H1495V1143H0Z M132 300H240V320H132Z"/></clipPath>
<clipPath id="db1"><path clip-rule="evenodd" d="M0 0H1495V1143H0Z M583.7 325.5H690V420H583.7Z"/></clipPath>
<clipPath id="db2"><path clip-rule="evenodd" d="M0 0H1495V1143H0Z M850 0H884.2V122H850Z"/></clipPath>
<line x1="121.1" y1="501.2" x2="263.5" y2="501.2" stroke="#000" stroke-width="2.8" stroke-dasharray="10 10.05" stroke-dashoffset="15.0"/>
<line x1="263.5" y1="501.2" x2="263.5" y2="310.8" stroke="#000" stroke-width="2.8" stroke-dasharray="10 10.05" stroke-dashoffset="17.15"/>
<line x1="263.5" y1="310.8" x2="121.1" y2="310.8" stroke="#000" stroke-width="2.8" stroke-dasharray="10 10.05" stroke-dashoffset="7.55" clip-path="url(#db0)"/>
<line x1="121.1" y1="310.8" x2="121.1" y2="501.2" stroke="#000" stroke-width="2.8" stroke-dasharray="10 10.05" stroke-dashoffset="4.05"/>
<line x1="476.4" y1="406.6" x2="671.2" y2="406.6" stroke="#000" stroke-width="2.8" stroke-dasharray="10 10.05" stroke-dashoffset="2.95" clip-path="url(#db1)"/>
<line x1="671.2" y1="406.6" x2="671.2" y2="170.6" stroke="#000" stroke-width="2.8" stroke-dasharray="10 10.05" stroke-dashoffset="19.55" clip-path="url(#db1)"/>
<line x1="671.2" y1="170.6" x2="476.4" y2="170.6" stroke="#000" stroke-width="2.8" stroke-dasharray="10 10.05" stroke-dashoffset="16.25"/>
<line x1="476.4" y1="170.6" x2="476.4" y2="406.6" stroke="#000" stroke-width="2.8" stroke-dasharray="10 10.05" stroke-dashoffset="6.55"/>
<line x1="864.7" y1="260.4" x2="974.4" y2="260.4" stroke="#000" stroke-width="2.8" stroke-dasharray="10 10.05" stroke-dashoffset="19.75"/>
<line x1="974.4" y1="260.4" x2="974.4" y2="8.3" stroke="#000" stroke-width="2.8" stroke-dasharray="10 10.05" stroke-dashoffset="8.35"/>
<line x1="974.4" y1="8.3" x2="864.7" y2="8.3" stroke="#000" stroke-width="2.8" stroke-dasharray="10 10.05" stroke-dashoffset="0.6" clip-path="url(#db2)"/>
<line x1="864.7" y1="8.3" x2="864.7" y2="260.4" stroke="#000" stroke-width="2.8" stroke-dasharray="10 10.05" stroke-dashoffset="7.5" clip-path="url(#db2)"/>
<defs>
<radialGradient id="gO" cx="0.4" cy="0.35" r="0.65"><stop offset="0" stop-color="#ff6a6a"/><stop offset="0.45" stop-color="#f22a2a"/><stop offset="1" stop-color="#c40808"/></radialGradient>
<radialGradient id="gNpink" cx="0.45" cy="0.4" r="0.65"><stop offset="0" stop-color="#f9b3d4"/><stop offset="0.5" stop-color="#ec7db2"/><stop offset="1" stop-color="#c9548e"/></radialGradient>
<radialGradient id="gNviolet" cx="0.45" cy="0.4" r="0.65"><stop offset="0" stop-color="#e6b9f5"/><stop offset="0.5" stop-color="#c98ee0"/><stop offset="1" stop-color="#a262c0"/></radialGradient>
<radialGradient id="gNgreen" cx="0.45" cy="0.4" r="0.65"><stop offset="0" stop-color="#d6f0c6"/><stop offset="0.5" stop-color="#b7dca1"/><stop offset="1" stop-color="#8fbd78"/></radialGradient>
</defs>
<line x1="192.9" y1="290.8" x2="181.6" y2="281.6" stroke="#e87aa6" stroke-width="4.4"/>
<line x1="181.6" y1="281.6" x2="170.3" y2="272.5" stroke="#dc6c93" stroke-width="4.4"/>
<circle cx="170.3" cy="272.5" r="7.1" fill="url(#gO)"/>
<polygon points="192.5,249.4 234.8,281 214.1,307.7 193.6,331.7 151.1,299.7 170.3,272.5" fill="#e9c8da" fill-opacity="0.9"/>
<polygon points="192.9,290.8 192.5,249.4 170.3,272.5 151.1,299.7" fill="#f0d2e2" fill-opacity="0.9"/>
<polygon points="192.9,290.8 192.5,249.4 234.8,281" fill="#dcbccc" fill-opacity="0.9"/>
<polygon points="192.9,290.8 151.1,299.7 193.6,331.7" fill="#dcbccc" fill-opacity="0.9"/>
<polygon points="192.9,290.8 234.8,281 214.1,307.7 193.6,331.7" fill="#f0d2e2" fill-opacity="0.7"/>
<polyline points="151.1,299.7 192.5,249.4 234.8,281 214.1,307.7 193.6,331.7 151.1,299.7 214.1,307.7 192.5,249.4" fill="none" stroke="#f7e9f0" stroke-width="0.8" stroke-opacity="0.8"/>
<line x1="192.9" y1="290.8" x2="192.7" y2="270.1" stroke="#e87aa6" stroke-width="4.4"/>
<line x1="192.7" y1="270.1" x2="192.5" y2="249.4" stroke="#dc6c93" stroke-width="4.4"/>
<line x1="192.9" y1="290.8" x2="172" y2="295.2" stroke="#e87aa6" stroke-width="4.4"/>
<line x1="172" y1="295.2" x2="151.1" y2="299.7" stroke="#dc6c93" stroke-width="4.4"/>
<line x1="192.9" y1="290.8" x2="213.9" y2="285.9" stroke="#e87aa6" stroke-width="4.4"/>
<line x1="213.9" y1="285.9" x2="234.8" y2="281" stroke="#dc6c93" stroke-width="4.4"/>
<line x1="192.9" y1="290.8" x2="193.2" y2="311.2" stroke="#e87aa6" stroke-width="4.4"/>
<line x1="193.2" y1="311.2" x2="193.6" y2="331.7" stroke="#dc6c93" stroke-width="4.4"/>
<circle cx="192.9" cy="290.8" r="13.0" fill="url(#gNpink)"/>
<line x1="192.9" y1="290.8" x2="203.5" y2="299.2" stroke="#e87aa6" stroke-width="4.4"/>
<line x1="203.5" y1="299.2" x2="214.1" y2="307.7" stroke="#dc6c93" stroke-width="4.4"/>
<circle cx="192.5" cy="249.4" r="7.1" fill="url(#gO)"/>
<circle cx="151.1" cy="299.7" r="7.1" fill="url(#gO)"/>
<circle cx="234.8" cy="281" r="7.1" fill="url(#gO)"/>
<circle cx="193.6" cy="331.7" r="7.1" fill="url(#gO)"/>
<circle cx="214.1" cy="307.7" r="7.1" fill="url(#gO)"/>
<line x1="647.5" y1="381.8" x2="636.4" y2="372.9" stroke="#b982d4" stroke-width="4.4"/>
<line x1="636.4" y1="372.9" x2="625.3" y2="364" stroke="#d97aa9" stroke-width="4.4"/>
<circle cx="625.3" cy="364" r="7.0" fill="url(#gO)"/>
<polygon points="647,336.1 689.8,372.6 668.9,399.6 648.4,428.5 605.8,391.9 625.3,364" fill="#e1d2ea" fill-opacity="0.9"/>
<polygon points="647.5,381.8 647,336.1 625.3,364 605.8,391.9" fill="#e9dcf1" fill-opacity="0.9"/>
<polygon points="647.5,381.8 647,336.1 689.8,372.6" fill="#d3c4dc" fill-opacity="0.9"/>
<polygon points="647.5,381.8 605.8,391.9 648.4,428.5" fill="#d3c4dc" fill-opacity="0.9"/>
<polygon points="647.5,381.8 689.8,372.6 668.9,399.6 648.4,428.5" fill="#e9dcf1" fill-opacity="0.7"/>
<polyline points="605.8,391.9 647,336.1 689.8,372.6 668.9,399.6 648.4,428.5 605.8,391.9 668.9,399.6 647,336.1" fill="none" stroke="#f3ecf7" stroke-width="0.8" stroke-opacity="0.8"/>
<line x1="647.5" y1="381.8" x2="647.2" y2="359" stroke="#b982d4" stroke-width="4.4"/>
<line x1="647.2" y1="359" x2="647" y2="336.1" stroke="#d97aa9" stroke-width="4.4"/>
<line x1="647.5" y1="381.8" x2="626.6" y2="386.9" stroke="#b982d4" stroke-width="4.4"/>
<line x1="626.6" y1="386.9" x2="605.8" y2="391.9" stroke="#d97aa9" stroke-width="4.4"/>
<line x1="647.5" y1="381.8" x2="668.6" y2="377.2" stroke="#b982d4" stroke-width="4.4"/>
<line x1="668.6" y1="377.2" x2="689.8" y2="372.6" stroke="#d97aa9" stroke-width="4.4"/>
<line x1="647.5" y1="381.8" x2="648" y2="405.1" stroke="#b982d4" stroke-width="4.4"/>
<line x1="648" y1="405.1" x2="648.4" y2="428.5" stroke="#d97aa9" stroke-width="4.4"/>
<circle cx="647.5" cy="381.8" r="11.5" fill="url(#gNviolet)"/>
<line x1="647.5" y1="381.8" x2="658.2" y2="390.7" stroke="#b982d4" stroke-width="4.4"/>
<line x1="658.2" y1="390.7" x2="668.9" y2="399.6" stroke="#d97aa9" stroke-width="4.4"/>
<circle cx="647" cy="336.1" r="7.0" fill="url(#gO)"/>
<circle cx="605.8" cy="391.9" r="7.0" fill="url(#gO)"/>
<circle cx="689.8" cy="372.6" r="7.0" fill="url(#gO)"/>
<circle cx="648.4" cy="428.5" r="7.0" fill="url(#gO)"/>
<circle cx="668.9" cy="399.6" r="7.0" fill="url(#gO)"/>
<line x1="850.8" y1="59.2" x2="838.8" y2="49.6" stroke="#a3cf8d" stroke-width="4.4"/>
<line x1="838.8" y1="49.6" x2="826.8" y2="39.9" stroke="#dba58e" stroke-width="4.4"/>
<circle cx="826.8" cy="39.9" r="7.0" fill="url(#gO)"/>
<polygon points="850.1,12.5 895.6,48.6 873.7,77.5 851.8,105.4 807,68.8 826.8,39.9" fill="#dce8da" fill-opacity="0.9"/>
<polygon points="850.8,59.2 850.1,12.5 826.8,39.9 807,68.8" fill="#e4efe2" fill-opacity="0.9"/>
<polygon points="850.8,59.2 850.1,12.5 895.6,48.6" fill="#d2ddd1" fill-opacity="0.9"/>
<polygon points="850.8,59.2 807,68.8 851.8,105.4" fill="#d2ddd1" fill-opacity="0.9"/>
<polygon points="850.8,59.2 895.6,48.6 873.7,77.5 851.8,105.4" fill="#e4efe2" fill-opacity="0.7"/>
<polyline points="807,68.8 850.1,12.5 895.6,48.6 873.7,77.5 851.8,105.4 807,68.8 873.7,77.5 850.1,12.5" fill="none" stroke="#f0f5ef" stroke-width="0.8" stroke-opacity="0.8"/>
<line x1="850.8" y1="59.2" x2="850.4" y2="35.9" stroke="#a3cf8d" stroke-width="4.4"/>
<line x1="850.4" y1="35.9" x2="850.1" y2="12.5" stroke="#dba58e" stroke-width="4.4"/>
<line x1="850.8" y1="59.2" x2="828.9" y2="64" stroke="#a3cf8d" stroke-width="4.4"/>
<line x1="828.9" y1="64" x2="807" y2="68.8" stroke="#dba58e" stroke-width="4.4"/>
<line x1="850.8" y1="59.2" x2="873.2" y2="53.9" stroke="#a3cf8d" stroke-width="4.4"/>
<line x1="873.2" y1="53.9" x2="895.6" y2="48.6" stroke="#dba58e" stroke-width="4.4"/>
<line x1="850.8" y1="59.2" x2="851.3" y2="82.3" stroke="#a3cf8d" stroke-width="4.4"/>
<line x1="851.3" y1="82.3" x2="851.8" y2="105.4" stroke="#dba58e" stroke-width="4.4"/>
<circle cx="850.8" cy="59.2" r="11.5" fill="url(#gNgreen)"/>
<line x1="850.8" y1="59.2" x2="862.2" y2="68.3" stroke="#a3cf8d" stroke-width="4.4"/>
<line x1="862.2" y1="68.3" x2="873.7" y2="77.5" stroke="#dba58e" stroke-width="4.4"/>
<circle cx="850.1" cy="12.5" r="7.0" fill="url(#gO)"/>
<circle cx="807" cy="68.8" r="7.0" fill="url(#gO)"/>
<circle cx="895.6" cy="48.6" r="7.0" fill="url(#gO)"/>
<circle cx="851.8" cy="105.4" r="7.0" fill="url(#gO)"/>
<circle cx="873.7" cy="77.5" r="7.0" fill="url(#gO)"/>
<rect x="269" y="20.9" width="13.9" height="14.7" fill="#f0f6fd"/>
<rect x="282.3" y="20.9" width="13.9" height="14.7" fill="#e0ecf8"/>
<rect x="295.6" y="20.9" width="13.9" height="14.7" fill="#d1e2f3"/>
<rect x="308.9" y="20.9" width="13.9" height="14.7" fill="#c1d9ed"/>
<rect x="322.2" y="20.9" width="13.9" height="14.7" fill="#a8cee4"/>
<rect x="335.5" y="20.9" width="13.9" height="14.7" fill="#8abfdd"/>
<rect x="348.8" y="20.9" width="13.9" height="14.7" fill="#6aaed6"/>
<rect x="362.2" y="20.9" width="13.9" height="14.7" fill="#529dcc"/>
<rect x="375.5" y="20.9" width="13.9" height="14.7" fill="#3a8ac2"/>
<rect x="388.8" y="20.9" width="13.9" height="14.7" fill="#2575b7"/>
<rect x="402.1" y="20.9" width="13.9" height="14.7" fill="#1562a9"/>
<rect x="415.4" y="20.9" width="13.9" height="14.7" fill="#084e98"/>
<rect x="428.7" y="20.9" width="13.9" height="14.7" fill="#083979"/>
<rect x="269.0" y="20.9" width="173" height="14.7" fill="none" stroke="#000" stroke-width="2"/>
<line x1="269" y1="35.6" x2="269" y2="44.7" stroke="#000" stroke-width="2"/>
<line x1="442" y1="35.6" x2="442" y2="44.7" stroke="#000" stroke-width="2"/>
<text x="269.5" y="75.6" font-size="31" text-anchor="middle">130</text>
<text x="441.5" y="75.6" font-size="31" text-anchor="middle">0</text>
<text x="354.8" y="110.2" font-size="30.5" text-anchor="middle">Energy, meV</text>
<text x="279" y="491.9" font-size="28.8"><tspan font-style="italic">S</tspan> = 0</text>
<text x="485" y="443.4" font-size="28.8"><tspan font-style="italic">S</tspan> = ½</text>
<text x="887.5" y="295.1" font-size="28.8"><tspan font-style="italic">S</tspan> = 1</text>
<rect x="115.3" y="1.1" width="864.6" height="506.4" fill="none" stroke="#000" stroke-width="2.2"/>
<line x1="106.5" y1="127.3" x2="115.3" y2="127.3" stroke="#000" stroke-width="2"/>
<text x="98.5" y="138.3" font-size="31" text-anchor="end">11</text>
<line x1="106.5" y1="267.1" x2="115.3" y2="267.1" stroke="#000" stroke-width="2"/>
<text x="98.5" y="278.1" font-size="31" text-anchor="end">10</text>
<line x1="106.5" y1="406.9" x2="115.3" y2="406.9" stroke="#000" stroke-width="2"/>
<text x="98.5" y="417.9" font-size="31" text-anchor="end">9</text>
<line x1="221.3" y1="507.5" x2="221.3" y2="516.3" stroke="#000" stroke-width="2"/>
<line x1="329.7" y1="507.5" x2="329.7" y2="516.3" stroke="#000" stroke-width="2"/>
<line x1="438" y1="507.5" x2="438" y2="516.3" stroke="#000" stroke-width="2"/>
<line x1="546.4" y1="507.5" x2="546.4" y2="516.3" stroke="#000" stroke-width="2"/>
<line x1="654.8" y1="507.5" x2="654.8" y2="516.3" stroke="#000" stroke-width="2"/>
<line x1="763.1" y1="507.5" x2="763.1" y2="516.3" stroke="#000" stroke-width="2"/>
<line x1="871.5" y1="507.5" x2="871.5" y2="516.3" stroke="#000" stroke-width="2"/>
<text transform="translate(42.9,381.5) rotate(-90)" font-size="34.5">NiO<tspan font-size="24" dy="7">6</tspan><tspan dy="-7"> volume. Å</tspan><tspan font-size="24" dy="-13">3</tspan></text>
<text x="25" y="45.5" font-size="36" font-weight="bold">a</text>
<g clip-path="url(#cb)">
<g fill="#689F38" fill-opacity="0.4" stroke="#689F38" stroke-opacity="0.5" stroke-width="1.9">
<circle cx="130" cy="597.6" r="4.6"/>
<circle cx="138.6" cy="710.9" r="4.6"/>
<circle cx="147.2" cy="756.4" r="4.6"/>
<circle cx="155.8" cy="771.4" r="4.6"/>
<circle cx="164.4" cy="767.6" r="4.6"/>
<circle cx="173" cy="762.9" r="4.6"/>
<circle cx="181.6" cy="759.1" r="4.6"/>
<circle cx="190.2" cy="752.2" r="4.6"/>
<circle cx="198.8" cy="746.1" r="4.6"/>
<circle cx="207.4" cy="730.3" r="4.6"/>
<circle cx="216" cy="712.8" r="4.6"/>
<circle cx="224.6" cy="695.7" r="4.6"/>
<circle cx="233.2" cy="673.8" r="4.6"/>
<circle cx="241.8" cy="671.8" r="4.6"/>
<circle cx="250.4" cy="660.1" r="4.6"/>
<circle cx="259" cy="647.6" r="4.6"/>
<circle cx="267.6" cy="634.9" r="4.6"/>
<circle cx="276.2" cy="640" r="4.6"/>
<circle cx="284.8" cy="646.9" r="4.6"/>
<circle cx="293.4" cy="645" r="4.6"/>
<circle cx="302" cy="637" r="4.6"/>
<circle cx="310.6" cy="622.8" r="4.6"/>
<circle cx="319.2" cy="626.7" r="4.6"/>
<circle cx="327.8" cy="627.8" r="4.6"/>
<circle cx="336.4" cy="635.2" r="4.6"/>
<circle cx="345" cy="641.1" r="4.6"/>
<circle cx="353.6" cy="642" r="4.6"/>
<circle cx="362.2" cy="654.9" r="4.6"/>
<circle cx="370.8" cy="655.4" r="4.6"/>
<circle cx="379.4" cy="666" r="4.6"/>
<circle cx="388" cy="668.3" r="4.6"/>
<circle cx="396.6" cy="677.5" r="4.6"/>
<circle cx="405.2" cy="689.9" r="4.6"/>
<circle cx="413.8" cy="696.2" r="4.6"/>
<circle cx="422.4" cy="702.3" r="4.6"/>
<circle cx="431" cy="707.8" r="4.6"/>
<circle cx="439.6" cy="718.7" r="4.6"/>
<circle cx="448.2" cy="731.8" r="4.6"/>
<circle cx="456.8" cy="748.4" r="4.6"/>
<circle cx="465.4" cy="771.4" r="4.6"/>
<circle cx="474" cy="780.8" r="4.6"/>
<circle cx="482.6" cy="810.5" r="4.6"/>
<circle cx="491.2" cy="835.2" r="4.6"/>
<circle cx="499.8" cy="853.7" r="4.6"/>
<circle cx="508.4" cy="880" r="4.6"/>
<circle cx="517" cy="910.6" r="4.6"/>
<circle cx="525.6" cy="930.3" r="4.6"/>
<circle cx="534.2" cy="970.9" r="4.6"/>
<circle cx="542.8" cy="1004.4" r="4.6"/>
<circle cx="551.4" cy="1024.5" r="4.6"/>
<circle cx="560" cy="1041.7" r="4.6"/>
<circle cx="568.6" cy="1042.9" r="4.6"/>
<circle cx="577.2" cy="1033" r="4.6"/>
<circle cx="585.8" cy="1028.7" r="4.6"/>
<circle cx="594.4" cy="1008.4" r="4.6"/>
<circle cx="603" cy="988" r="4.6"/>
<circle cx="611.6" cy="968.2" r="4.6"/>
<circle cx="620.2" cy="942.2" r="4.6"/>
<circle cx="628.8" cy="918.5" r="4.6"/>
<circle cx="637.4" cy="889.4" r="4.6"/>
<circle cx="646" cy="874.9" r="4.6"/>
<circle cx="654.6" cy="851.6" r="4.6"/>
<circle cx="663.2" cy="836.7" r="4.6"/>
<circle cx="671.8" cy="818.6" r="4.6"/>
<circle cx="680.4" cy="805.7" r="4.6"/>
<circle cx="689" cy="800" r="4.6"/>
<circle cx="697.6" cy="803.3" r="4.6"/>
<circle cx="706.2" cy="783.6" r="4.6"/>
<circle cx="714.8" cy="776.3" r="4.6"/>
<circle cx="723.4" cy="773.8" r="4.6"/>
<circle cx="732" cy="769.5" r="4.6"/>
<circle cx="740.6" cy="759.9" r="4.6"/>
<circle cx="749.2" cy="745.9" r="4.6"/>
<circle cx="757.8" cy="737.2" r="4.6"/>
<circle cx="766.4" cy="746.2" r="4.6"/>
<circle cx="775" cy="743" r="4.6"/>
<circle cx="783.6" cy="742.3" r="4.6"/>
<circle cx="792.2" cy="749.1" r="4.6"/>
<circle cx="800.8" cy="748.1" r="4.6"/>
<circle cx="809.4" cy="745.7" r="4.6"/>
<circle cx="818" cy="747.5" r="4.6"/>
<circle cx="826.6" cy="749.4" r="4.6"/>
<circle cx="835.2" cy="754.6" r="4.6"/>
<circle cx="843.8" cy="751.1" r="4.6"/>
<circle cx="852.4" cy="748.9" r="4.6"/>
<circle cx="861" cy="745.4" r="4.6"/>
<circle cx="869.6" cy="734.3" r="4.6"/>
<circle cx="878.2" cy="745.3" r="4.6"/>
<circle cx="886.8" cy="751" r="4.6"/>
<circle cx="895.4" cy="759.7" r="4.6"/>
<circle cx="904" cy="758.1" r="4.6"/>
<circle cx="912.6" cy="764.5" r="4.6"/>
<circle cx="921.2" cy="769.2" r="4.6"/>
<circle cx="929.8" cy="763.6" r="4.6"/>
<circle cx="938.4" cy="772.1" r="4.6"/>
<circle cx="947" cy="762.4" r="4.6"/>
<circle cx="955.6" cy="713.1" r="4.6"/>
<circle cx="964.2" cy="655" r="4.6"/>
<circle cx="972.8" cy="581.6" r="4.6"/>
<circle cx="311.3" cy="599.6" r="4.6"/>
<circle cx="130" cy="654.4" r="4.6"/>
<circle cx="138.4" cy="735.6" r="4.6"/>
<circle cx="147.5" cy="775.4" r="4.6"/>
<circle cx="156.6" cy="783" r="4.6"/>
<circle cx="182.3" cy="746.3" r="4.6"/>
<circle cx="190.8" cy="757.9" r="4.6"/>
<circle cx="259.7" cy="632.1" r="4.6"/>
<circle cx="268.6" cy="634" r="4.6"/>
<circle cx="285.6" cy="655.6" r="4.6"/>
<circle cx="329" cy="640.1" r="4.6"/>
<circle cx="760.2" cy="731.5" r="4.6"/>
<circle cx="942" cy="797" r="4.6"/>
<circle cx="953.5" cy="754" r="4.6"/>
<circle cx="966.7" cy="635.5" r="4.6"/>
</g>
<g fill="#F57C00" fill-opacity="0.4" stroke="#F57C00" stroke-opacity="0.5" stroke-width="1.9">
<circle cx="121.4" cy="655.2" r="4.6"/>
<circle cx="130" cy="749.4" r="4.6"/>
<circle cx="138.6" cy="809.6" r="4.6"/>
<circle cx="147.2" cy="839.7" r="4.6"/>
<circle cx="155.8" cy="855.3" r="4.6"/>
<circle cx="164.4" cy="849.9" r="4.6"/>
<circle cx="173" cy="846.7" r="4.6"/>
<circle cx="181.6" cy="840.6" r="4.6"/>
<circle cx="190.2" cy="818.3" r="4.6"/>
<circle cx="198.8" cy="796.6" r="4.6"/>
<circle cx="207.4" cy="790.8" r="4.6"/>
<circle cx="216" cy="785.9" r="4.6"/>
<circle cx="224.6" cy="771.9" r="4.6"/>
<circle cx="233.2" cy="755.7" r="4.6"/>
<circle cx="241.8" cy="750.3" r="4.6"/>
<circle cx="250.4" cy="743.5" r="4.6"/>
<circle cx="259" cy="734.5" r="4.6"/>
<circle cx="267.6" cy="728.2" r="4.6"/>
<circle cx="276.2" cy="712.2" r="4.6"/>
<circle cx="284.8" cy="716.4" r="4.6"/>
<circle cx="293.4" cy="702.1" r="4.6"/>
<circle cx="302" cy="697.7" r="4.6"/>
<circle cx="310.6" cy="700.6" r="4.6"/>
<circle cx="319.2" cy="701.2" r="4.6"/>
<circle cx="327.8" cy="702" r="4.6"/>
<circle cx="336.4" cy="703.2" r="4.6"/>
<circle cx="345" cy="702.8" r="4.6"/>
<circle cx="353.6" cy="703.6" r="4.6"/>
<circle cx="362.2" cy="710" r="4.6"/>
<circle cx="370.8" cy="713.5" r="4.6"/>
<circle cx="379.4" cy="721.2" r="4.6"/>
<circle cx="388" cy="723.5" r="4.6"/>
<circle cx="396.6" cy="722" r="4.6"/>
<circle cx="405.2" cy="732.6" r="4.6"/>
<circle cx="413.8" cy="740.4" r="4.6"/>
<circle cx="422.4" cy="756.3" r="4.6"/>
<circle cx="431" cy="764.4" r="4.6"/>
<circle cx="439.6" cy="776.3" r="4.6"/>
<circle cx="448.2" cy="782.8" r="4.6"/>
<circle cx="456.8" cy="793.8" r="4.6"/>
<circle cx="465.4" cy="815.4" r="4.6"/>
<circle cx="474" cy="830.4" r="4.6"/>
<circle cx="482.6" cy="852.5" r="4.6"/>
<circle cx="491.2" cy="874.2" r="4.6"/>
<circle cx="499.8" cy="873.7" r="4.6"/>
<circle cx="508.4" cy="894.1" r="4.6"/>
<circle cx="517" cy="916.3" r="4.6"/>
<circle cx="525.6" cy="937.7" r="4.6"/>
<circle cx="534.2" cy="961.7" r="4.6"/>
<circle cx="542.8" cy="997.3" r="4.6"/>
<circle cx="551.4" cy="1025.5" r="4.6"/>
<circle cx="560" cy="1039.3" r="4.6"/>
<circle cx="568.6" cy="1041.1" r="4.6"/>
<circle cx="577.2" cy="1047.8" r="4.6"/>
<circle cx="585.8" cy="1028.8" r="4.6"/>
<circle cx="594.4" cy="1009.7" r="4.6"/>
<circle cx="603" cy="993.1" r="4.6"/>
<circle cx="611.6" cy="971.2" r="4.6"/>
<circle cx="620.2" cy="950.1" r="4.6"/>
<circle cx="628.8" cy="919.1" r="4.6"/>
<circle cx="637.4" cy="905.7" r="4.6"/>
<circle cx="646" cy="891.8" r="4.6"/>
<circle cx="654.6" cy="869" r="4.6"/>
<circle cx="663.2" cy="862.6" r="4.6"/>
<circle cx="671.8" cy="858.9" r="4.6"/>
<circle cx="680.4" cy="852.4" r="4.6"/>
<circle cx="689" cy="849.5" r="4.6"/>
<circle cx="697.6" cy="831.2" r="4.6"/>
<circle cx="706.2" cy="827.5" r="4.6"/>
<circle cx="714.8" cy="816.9" r="4.6"/>
<circle cx="723.4" cy="809.8" r="4.6"/>
<circle cx="732" cy="803.3" r="4.6"/>
<circle cx="740.6" cy="784.6" r="4.6"/>
<circle cx="749.2" cy="795.4" r="4.6"/>
<circle cx="757.8" cy="781.9" r="4.6"/>
<circle cx="766.4" cy="785.8" r="4.6"/>
<circle cx="775" cy="775.9" r="4.6"/>
<circle cx="783.6" cy="783.5" r="4.6"/>
<circle cx="792.2" cy="788.2" r="4.6"/>
<circle cx="800.8" cy="784.2" r="4.6"/>
<circle cx="809.4" cy="787.8" r="4.6"/>
<circle cx="818" cy="796" r="4.6"/>
<circle cx="826.6" cy="798.8" r="4.6"/>
<circle cx="835.2" cy="802.6" r="4.6"/>
<circle cx="843.8" cy="813.3" r="4.6"/>
<circle cx="852.4" cy="817.5" r="4.6"/>
<circle cx="861" cy="817" r="4.6"/>
<circle cx="869.6" cy="833.4" r="4.6"/>
<circle cx="878.2" cy="826.4" r="4.6"/>
<circle cx="886.8" cy="841.4" r="4.6"/>
<circle cx="895.4" cy="840.8" r="4.6"/>
<circle cx="904" cy="840.5" r="4.6"/>
<circle cx="912.6" cy="841.7" r="4.6"/>
<circle cx="921.2" cy="842.1" r="4.6"/>
<circle cx="929.8" cy="849" r="4.6"/>
<circle cx="938.4" cy="843.6" r="4.6"/>
<circle cx="947" cy="831.6" r="4.6"/>
<circle cx="955.6" cy="804.7" r="4.6"/>
<circle cx="964.2" cy="738.1" r="4.6"/>
<circle cx="972.8" cy="684" r="4.6"/>
<circle cx="120.9" cy="665.1" r="4.6"/>
<circle cx="129.3" cy="761.8" r="4.6"/>
<circle cx="157" cy="857" r="4.6"/>
<circle cx="336.7" cy="712" r="4.6"/>
<circle cx="395.5" cy="710.5" r="4.6"/>
<circle cx="348.5" cy="693" r="4.6"/>
<circle cx="941.7" cy="860" r="4.6"/>
<circle cx="933.5" cy="856" r="4.6"/>
<circle cx="969.8" cy="718" r="4.6"/>
<circle cx="963.8" cy="742" r="4.6"/>
<circle cx="977.6" cy="615" r="4.6"/>
</g>
<g fill="#1976D2" fill-opacity="0.4" stroke="#1976D2" stroke-opacity="0.5" stroke-width="1.9">
<circle cx="121.4" cy="827.9" r="4.6"/>
<circle cx="130" cy="907.6" r="4.6"/>
<circle cx="138.6" cy="943.7" r="4.6"/>
<circle cx="147.2" cy="959" r="4.6"/>
<circle cx="155.8" cy="947.8" r="4.6"/>
<circle cx="164.4" cy="940.5" r="4.6"/>
<circle cx="173" cy="922.9" r="4.6"/>
<circle cx="181.6" cy="915.9" r="4.6"/>
<circle cx="190.2" cy="905.4" r="4.6"/>
<circle cx="198.8" cy="883.1" r="4.6"/>
<circle cx="207.4" cy="879" r="4.6"/>
<circle cx="216" cy="864.9" r="4.6"/>
<circle cx="224.6" cy="849.4" r="4.6"/>
<circle cx="233.2" cy="832.3" r="4.6"/>
<circle cx="241.8" cy="834.5" r="4.6"/>
<circle cx="250.4" cy="820.5" r="4.6"/>
<circle cx="259" cy="810.1" r="4.6"/>
<circle cx="267.6" cy="808.2" r="4.6"/>
<circle cx="276.2" cy="802.8" r="4.6"/>
<circle cx="284.8" cy="801.3" r="4.6"/>
<circle cx="293.4" cy="786.9" r="4.6"/>
<circle cx="302" cy="792.1" r="4.6"/>
<circle cx="310.6" cy="791.2" r="4.6"/>
<circle cx="319.2" cy="788.9" r="4.6"/>
<circle cx="327.8" cy="782.2" r="4.6"/>
<circle cx="336.4" cy="779.4" r="4.6"/>
<circle cx="345" cy="785.2" r="4.6"/>
<circle cx="353.6" cy="783" r="4.6"/>
<circle cx="362.2" cy="784" r="4.6"/>
<circle cx="370.8" cy="786.5" r="4.6"/>
<circle cx="379.4" cy="782.9" r="4.6"/>
<circle cx="388" cy="785.3" r="4.6"/>
<circle cx="396.6" cy="796" r="4.6"/>
<circle cx="405.2" cy="793.2" r="4.6"/>
<circle cx="413.8" cy="804.2" r="4.6"/>
<circle cx="422.4" cy="807" r="4.6"/>
<circle cx="431" cy="810.3" r="4.6"/>
<circle cx="439.6" cy="821.1" r="4.6"/>
<circle cx="448.2" cy="831.4" r="4.6"/>
<circle cx="456.8" cy="836.3" r="4.6"/>
<circle cx="465.4" cy="850.9" r="4.6"/>
<circle cx="474" cy="858.7" r="4.6"/>
<circle cx="482.6" cy="876.6" r="4.6"/>
<circle cx="491.2" cy="892" r="4.6"/>
<circle cx="499.8" cy="906.8" r="4.6"/>
<circle cx="508.4" cy="914.8" r="4.6"/>
<circle cx="517" cy="938.7" r="4.6"/>
<circle cx="525.6" cy="951.3" r="4.6"/>
<circle cx="534.2" cy="977.4" r="4.6"/>
<circle cx="542.8" cy="997.8" r="4.6"/>
<circle cx="551.4" cy="1029.3" r="4.6"/>
<circle cx="560" cy="1032.3" r="4.6"/>
<circle cx="568.6" cy="1042.8" r="4.6"/>
<circle cx="577.2" cy="1042.1" r="4.6"/>
<circle cx="585.8" cy="1034.3" r="4.6"/>
<circle cx="594.4" cy="1019.7" r="4.6"/>
<circle cx="603" cy="1005.4" r="4.6"/>
<circle cx="611.6" cy="993.9" r="4.6"/>
<circle cx="620.2" cy="971.2" r="4.6"/>
<circle cx="628.8" cy="957.5" r="4.6"/>
<circle cx="637.4" cy="945.3" r="4.6"/>
<circle cx="646" cy="928.9" r="4.6"/>
<circle cx="654.6" cy="914.8" r="4.6"/>
<circle cx="663.2" cy="907" r="4.6"/>
<circle cx="671.8" cy="903.6" r="4.6"/>
<circle cx="680.4" cy="885.2" r="4.6"/>
<circle cx="689" cy="882.6" r="4.6"/>
<circle cx="697.6" cy="882.7" r="4.6"/>
<circle cx="706.2" cy="877.6" r="4.6"/>
<circle cx="714.8" cy="870.7" r="4.6"/>
<circle cx="723.4" cy="870" r="4.6"/>
<circle cx="732" cy="864.1" r="4.6"/>
<circle cx="740.6" cy="855.6" r="4.6"/>
<circle cx="749.2" cy="851.8" r="4.6"/>
<circle cx="757.8" cy="853.2" r="4.6"/>
<circle cx="766.4" cy="858" r="4.6"/>
<circle cx="775" cy="852.7" r="4.6"/>
<circle cx="783.6" cy="851" r="4.6"/>
<circle cx="792.2" cy="850.8" r="4.6"/>
<circle cx="800.8" cy="849.9" r="4.6"/>
<circle cx="809.4" cy="857.5" r="4.6"/>
<circle cx="818" cy="856.7" r="4.6"/>
<circle cx="826.6" cy="865.6" r="4.6"/>
<circle cx="835.2" cy="859.5" r="4.6"/>
<circle cx="843.8" cy="872.1" r="4.6"/>
<circle cx="852.4" cy="871.1" r="4.6"/>
<circle cx="861" cy="870.7" r="4.6"/>
<circle cx="869.6" cy="885.3" r="4.6"/>
<circle cx="878.2" cy="886.6" r="4.6"/>
<circle cx="886.8" cy="886.2" r="4.6"/>
<circle cx="895.4" cy="898.8" r="4.6"/>
<circle cx="904" cy="910.8" r="4.6"/>
<circle cx="912.6" cy="915.8" r="4.6"/>
<circle cx="921.2" cy="928.8" r="4.6"/>
<circle cx="929.8" cy="937.3" r="4.6"/>
<circle cx="938.4" cy="943.2" r="4.6"/>
<circle cx="947" cy="940.7" r="4.6"/>
<circle cx="955.6" cy="930.7" r="4.6"/>
<circle cx="964.2" cy="894.2" r="4.6"/>
<circle cx="972.8" cy="850.4" r="4.6"/>
<circle cx="116.5" cy="817" r="4.6"/>
<circle cx="126" cy="881" r="4.6"/>
<circle cx="137.5" cy="955" r="4.6"/>
<circle cx="146.5" cy="960" r="4.6"/>
<circle cx="154" cy="960" r="4.6"/>
<circle cx="952.3" cy="945.6" r="4.6"/>
<circle cx="964.6" cy="925" r="4.6"/>
<circle cx="972" cy="877" r="4.6"/>
<circle cx="978" cy="770" r="4.6"/>
<circle cx="116.5" cy="697" r="4.6"/>
</g>
<g fill="#7B1FA2" fill-opacity="0.4" stroke="#7B1FA2" stroke-opacity="0.5" stroke-width="1.9">
<circle cx="121.4" cy="952.6" r="4.6"/>
<circle cx="130" cy="998.2" r="4.6"/>
<circle cx="138.6" cy="1008.5" r="4.6"/>
<circle cx="147.2" cy="998.1" r="4.6"/>
<circle cx="155.8" cy="985.7" r="4.6"/>
<circle cx="164.4" cy="978.9" r="4.6"/>
<circle cx="173" cy="948.3" r="4.6"/>
<circle cx="181.6" cy="941.7" r="4.6"/>
<circle cx="190.2" cy="933.7" r="4.6"/>
<circle cx="198.8" cy="904.3" r="4.6"/>
<circle cx="207.4" cy="895" r="4.6"/>
<circle cx="216" cy="885.6" r="4.6"/>
<circle cx="224.6" cy="864.7" r="4.6"/>
<circle cx="233.2" cy="853.8" r="4.6"/>
<circle cx="241.8" cy="843.4" r="4.6"/>
<circle cx="250.4" cy="828.2" r="4.6"/>
<circle cx="259" cy="826.2" r="4.6"/>
<circle cx="267.6" cy="823.4" r="4.6"/>
<circle cx="276.2" cy="821.8" r="4.6"/>
<circle cx="284.8" cy="815.2" r="4.6"/>
<circle cx="293.4" cy="810.7" r="4.6"/>
<circle cx="302" cy="802.1" r="4.6"/>
<circle cx="310.6" cy="797.7" r="4.6"/>
<circle cx="319.2" cy="795.2" r="4.6"/>
<circle cx="327.8" cy="791.8" r="4.6"/>
<circle cx="336.4" cy="791.6" r="4.6"/>
<circle cx="345" cy="792.2" r="4.6"/>
<circle cx="353.6" cy="805.2" r="4.6"/>
<circle cx="362.2" cy="800" r="4.6"/>
<circle cx="370.8" cy="797.4" r="4.6"/>
<circle cx="379.4" cy="784.8" r="4.6"/>
<circle cx="388" cy="796.2" r="4.6"/>
<circle cx="396.6" cy="798.4" r="4.6"/>
<circle cx="405.2" cy="804" r="4.6"/>
<circle cx="413.8" cy="799.7" r="4.6"/>
<circle cx="422.4" cy="798.1" r="4.6"/>
<circle cx="431" cy="804.6" r="4.6"/>
<circle cx="439.6" cy="800" r="4.6"/>
<circle cx="448.2" cy="814.3" r="4.6"/>
<circle cx="456.8" cy="816.6" r="4.6"/>
<circle cx="465.4" cy="822.2" r="4.6"/>
<circle cx="474" cy="844.4" r="4.6"/>
<circle cx="482.6" cy="861.3" r="4.6"/>
<circle cx="491.2" cy="866.3" r="4.6"/>
<circle cx="499.8" cy="886.1" r="4.6"/>
<circle cx="508.4" cy="907.6" r="4.6"/>
<circle cx="517" cy="927.1" r="4.6"/>
<circle cx="525.6" cy="948" r="4.6"/>
<circle cx="534.2" cy="967.6" r="4.6"/>
<circle cx="542.8" cy="998.7" r="4.6"/>
<circle cx="551.4" cy="1018.9" r="4.6"/>
<circle cx="560" cy="1028" r="4.6"/>
<circle cx="568.6" cy="1038" r="4.6"/>
<circle cx="577.2" cy="1048.9" r="4.6"/>
<circle cx="585.8" cy="1040.7" r="4.6"/>
<circle cx="594.4" cy="1033.6" r="4.6"/>
<circle cx="603" cy="1014.5" r="4.6"/>
<circle cx="611.6" cy="992.9" r="4.6"/>
<circle cx="620.2" cy="981.5" r="4.6"/>
<circle cx="628.8" cy="957.4" r="4.6"/>
<circle cx="637.4" cy="948.2" r="4.6"/>
<circle cx="646" cy="937.6" r="4.6"/>
<circle cx="654.6" cy="929.4" r="4.6"/>
<circle cx="663.2" cy="914.8" r="4.6"/>
<circle cx="671.8" cy="906.9" r="4.6"/>
<circle cx="680.4" cy="903.1" r="4.6"/>
<circle cx="689" cy="897.1" r="4.6"/>
<circle cx="697.6" cy="892.3" r="4.6"/>
<circle cx="706.2" cy="884.5" r="4.6"/>
<circle cx="714.8" cy="875.8" r="4.6"/>
<circle cx="723.4" cy="876.7" r="4.6"/>
<circle cx="732" cy="871.7" r="4.6"/>
<circle cx="740.6" cy="868.5" r="4.6"/>
<circle cx="749.2" cy="868.1" r="4.6"/>
<circle cx="757.8" cy="867.6" r="4.6"/>
<circle cx="766.4" cy="866.1" r="4.6"/>
<circle cx="775" cy="868.9" r="4.6"/>
<circle cx="783.6" cy="872" r="4.6"/>
<circle cx="792.2" cy="874.1" r="4.6"/>
<circle cx="800.8" cy="874.4" r="4.6"/>
<circle cx="809.4" cy="871.9" r="4.6"/>
<circle cx="818" cy="881.5" r="4.6"/>
<circle cx="826.6" cy="887.4" r="4.6"/>
<circle cx="835.2" cy="888.8" r="4.6"/>
<circle cx="843.8" cy="891.3" r="4.6"/>
<circle cx="852.4" cy="898.9" r="4.6"/>
<circle cx="861" cy="899.9" r="4.6"/>
<circle cx="869.6" cy="903.1" r="4.6"/>
<circle cx="878.2" cy="917" r="4.6"/>
<circle cx="886.8" cy="920.3" r="4.6"/>
<circle cx="895.4" cy="933.2" r="4.6"/>
<circle cx="904" cy="935.7" r="4.6"/>
<circle cx="912.6" cy="940.8" r="4.6"/>
<circle cx="921.2" cy="959.5" r="4.6"/>
<circle cx="929.8" cy="980.1" r="4.6"/>
<circle cx="938.4" cy="984.2" r="4.6"/>
<circle cx="947" cy="989.1" r="4.6"/>
<circle cx="955.6" cy="990.6" r="4.6"/>
<circle cx="964.2" cy="981.6" r="4.6"/>
<circle cx="972.8" cy="948.6" r="4.6"/>
<circle cx="125" cy="1000" r="4.6"/>
<circle cx="133" cy="1012" r="4.6"/>
<circle cx="141" cy="1010" r="4.6"/>
<circle cx="752" cy="898" r="4.6"/>
<circle cx="870" cy="898" r="4.6"/>
<circle cx="412" cy="788" r="4.6"/>
<circle cx="965" cy="985" r="4.6"/>
<circle cx="977" cy="955" r="4.6"/>
<circle cx="116.5" cy="925" r="4.6"/>
<circle cx="944" cy="1005" r="4.6"/>
</g>
<g fill="#C2185B" fill-opacity="0.4" stroke="#C2185B" stroke-opacity="0.5" stroke-width="1.9">
<circle cx="121.4" cy="1029.4" r="4.6"/>
<circle cx="130" cy="1042.4" r="4.6"/>
<circle cx="138.6" cy="1032.8" r="4.6"/>
<circle cx="147.2" cy="1014.7" r="4.6"/>
<circle cx="155.8" cy="996.8" r="4.6"/>
<circle cx="164.4" cy="977.6" r="4.6"/>
<circle cx="173" cy="952.4" r="4.6"/>
<circle cx="181.6" cy="929.4" r="4.6"/>
<circle cx="534.2" cy="969.6" r="4.6"/>
<circle cx="542.8" cy="986.3" r="4.6"/>
<circle cx="551.4" cy="1002.4" r="4.6"/>
<circle cx="560" cy="1014.1" r="4.6"/>
<circle cx="568.6" cy="1032.6" r="4.6"/>
<circle cx="577.2" cy="1040.8" r="4.6"/>
<circle cx="585.8" cy="1042.5" r="4.6"/>
<circle cx="594.4" cy="1032.3" r="4.6"/>
<circle cx="603" cy="1029.8" r="4.6"/>
<circle cx="611.6" cy="1011" r="4.6"/>
<circle cx="620.2" cy="990.8" r="4.6"/>
<circle cx="628.8" cy="976.2" r="4.6"/>
<circle cx="637.4" cy="973" r="4.6"/>
<circle cx="646" cy="950.4" r="4.6"/>
<circle cx="654.6" cy="942.8" r="4.6"/>
<circle cx="663.2" cy="932.9" r="4.6"/>
<circle cx="671.8" cy="920.5" r="4.6"/>
<circle cx="680.4" cy="908.7" r="4.6"/>
<circle cx="689" cy="907.1" r="4.6"/>
<circle cx="912.6" cy="943.4" r="4.6"/>
<circle cx="921.2" cy="967.7" r="4.6"/>
<circle cx="929.8" cy="987.3" r="4.6"/>
<circle cx="938.4" cy="1004.7" r="4.6"/>
<circle cx="947" cy="1025.9" r="4.6"/>
<circle cx="955.6" cy="1039.2" r="4.6"/>
<circle cx="964.2" cy="1038" r="4.6"/>
<circle cx="972.8" cy="1027.5" r="4.6"/>
<circle cx="203.3" cy="863.2" r="4.6"/>
<circle cx="195" cy="873.9" r="4.6"/>
<circle cx="221" cy="881" r="4.6"/>
<circle cx="497.6" cy="905.8" r="4.6"/>
<circle cx="505.2" cy="918.5" r="4.6"/>
<circle cx="514.1" cy="937.2" r="4.6"/>
<circle cx="523" cy="952.7" r="4.6"/>
<circle cx="879.7" cy="879.7" r="4.6"/>
<circle cx="887.6" cy="885.4" r="4.6"/>
<circle cx="870.6" cy="900.1" r="4.6"/>
<circle cx="895.6" cy="901.3" r="4.6"/>
<circle cx="904.7" cy="924.1" r="4.6"/>
<circle cx="913.6" cy="937" r="4.6"/>
<circle cx="120" cy="1047" r="4.6"/>
<circle cx="132" cy="1047" r="4.6"/>
<circle cx="116.5" cy="1040" r="4.6"/>
<circle cx="160.7" cy="969.5" r="4.6"/>
<circle cx="172" cy="958.5" r="4.6"/>
<circle cx="153.5" cy="994" r="4.6"/>
<circle cx="940" cy="1016" r="4.6"/>
<circle cx="978" cy="1010" r="4.6"/>
<circle cx="956" cy="1047" r="4.6"/>
<circle cx="966" cy="1047" r="4.6"/>
<circle cx="920.5" cy="972" r="4.6"/>
<circle cx="929" cy="985" r="4.6"/>
</g>
<polyline points="115.5,1018 126.5,1038 134.8,1035.7 143.1,1023.9 153.7,1000.3 164.3,971.9 175,943.6 186.8,911.7" fill="none" stroke="#C2185B" stroke-width="3.5" stroke-linejoin="round" stroke-linecap="butt"/>
<polyline points="531,968.5 543,987.1 552.4,1001.3 561.9,1018.6 571.3,1032.8 577.6,1039.1 583.9,1040.6 594.5,1033 605.5,1017 617.5,996.5 629,975.5 641.6,957.8 654.3,940 667,924.8 679.7,913.4 689.9,905.8" fill="none" stroke="#C2185B" stroke-width="3.5" stroke-linejoin="round" stroke-linecap="butt"/>
<polyline points="904.3,924.1 913,943 922.4,966.6 933.5,993.4 944.5,1018.6 957.1,1039.8 965.7,1036.7 975.2,1024.1" fill="none" stroke="#C2185B" stroke-width="3.5" stroke-linejoin="round" stroke-linecap="butt"/>
<polyline points="115.5,918 117.1,924.7 120.6,955.4 125.4,983.7 133.6,1003.8 143.1,1003.8 152.5,993.2 163.2,974.3 173.8,953 188,929.4 202.1,901 213.9,882.1 225.8,863.2 238.8,843.2 251.7,830.2 265.9,823.1 280.1,817.2 291.9,812.4 306.1,803 317.9,792.4 325.1,790.3 335.2,794.6 347.9,795.4 363.1,795.9 375.8,794.6 386,793.3 396.1,796.6 408.8,798.4 421.5,797.9 431.6,803 441.8,808.1 454.5,813.1 464.6,823.3 474.8,841 484.9,858.8 495.1,879.1 505.2,899.4 515.4,922.2 523,942.5 530.6,962.8 542.7,990.8 555.4,1026.3 568.1,1042.8 580.7,1042.8 593.4,1028.8 606.1,1006 618.8,983.1 631.5,960.3 644.2,940 656.9,924.8 672.1,907 687.3,896.9 702.5,886.7 715.2,876.6 730.5,871.5 745.7,871.5 759.1,867.2 770.5,866.1 781.8,871.7 795.5,874 809.1,876.3 822.8,882 836.4,887.7 850.1,895.6 865.7,906.8 881.5,919.4 897.2,932 909.8,946.1 922.4,965 933.5,979.2 944.5,993.4 953.9,995.7 963.4,982.4 971.3,955.6 978.3,914.6" fill="none" stroke="#7B1FA2" stroke-width="3.5" stroke-linejoin="round" stroke-linecap="butt"/>
<polyline points="115.5,772 117.1,790 121.8,837.2 127.7,891.6 137.2,938.8 146.6,953.7 153.7,953.7 163.2,942.4 173.8,925.8 183.2,910.5 193.9,894 204.5,877.4 216.3,860.9 228.1,845.5 239.9,831.3 258.8,812.4 275.4,801.8 294.3,790 320,783.5 335.2,782.2 347.9,781.4 360.6,784 370.7,781.4 378.4,782.7 388.5,794.1 401.2,799.2 416.4,801.7 429.1,810.6 441.8,823.3 454.5,833.4 464.6,844.9 474.8,860.1 484.9,876.6 497.6,896.9 507.8,915.9 517.9,937.5 525.5,957.8 533.1,978.1 540.1,998.4 552.8,1028.8 565.5,1042.8 578.2,1042.8 590.9,1028.8 603.6,1003.4 616.3,978.1 629,955.2 641.6,934.9 654.3,919.7 667,904.5 682.2,889.3 697.5,879.1 712.7,871.5 727.9,865.2 743.1,858.8 761.4,854.7 777.3,854.7 793.2,853.5 806.9,857 822.8,862.6 838.7,869.5 854.6,874 868.3,882 881.5,889.4 897.2,903.6 913,917.8 925.6,930.4 935,939.8 942.9,942.2 952.4,935.9 960.2,911.5 965,887.9 968.4,875.2 974.1,841 978.6,809.2" fill="none" stroke="#1976D2" stroke-width="3.5" stroke-linejoin="round" stroke-linecap="butt"/>
<polyline points="115.5,580 121.6,658.3 127.1,710 129.6,744.7 134.8,790 139.5,811.3 146.6,838.4 154.9,851 163.2,852.6 171.4,850.2 180.9,838.4 189.1,820.7 197.4,801.8 207.8,786.8 216.9,780 224.9,773.2 234,759.5 243.1,749.3 251,743.6 259,735.6 269.2,720.8 277.2,715.2 285.2,711.7 294.3,706.1 302.2,700.4 311.3,698.1 320.4,697 329.1,699.2 338.2,702.6 349.6,702 356.4,703.8 364.4,709.5 372.3,715.2 380.3,720.8 388.2,721.5 397.3,722 405.3,729.9 414.4,739 423.5,750.4 431.5,764.1 439.4,777.7 446.9,782.7 457,794.1 465.9,813.1 474.8,833.4 484.9,856.3 497.6,879.1 507.8,896.9 517.9,917.2 528.1,942.5 535.7,965.4 540.1,990.8 550.3,1021.2 560.4,1039 570.6,1044 580.7,1036.4 590.9,1018.7 601,998.4 611.2,973 621.3,947.6 631.5,922.2 641.6,896.9 651.8,876.6 664.5,861.3 677.2,851.2 689.9,843.6 702.5,833.4 712.7,820.7 722.8,808.1 735.6,795.9 749.3,791.4 760.7,785.7 772.7,780.8 784.1,783 795.5,784.2 806.9,785.3 818.2,793.3 829.6,800.1 841,805.8 852.4,813.7 863.7,819.4 875.1,827.4 884.2,836.5 893.3,842.2 904.7,839.9 916.1,838.8 925.2,843.3 934.3,850.1 943.4,847.9 951.3,824 957,795.5 962.7,752.3 968.4,711.4 972.5,690 977.1,654.9" fill="none" stroke="#F57C00" stroke-width="3.5" stroke-linejoin="round" stroke-linecap="butt"/>
<polyline points="126,543 130.7,608.2 134.6,660 138.5,708.5 147.6,759.5 156.2,773.2 164.6,770.9 172.6,764.1 181.7,755 190.8,750.4 199.9,741.3 207.8,728.8 216.9,709.5 226,692.4 235.1,676.5 248.8,660.6 260.1,644.2 268.1,640.8 277.2,646.9 285.2,650.3 295.4,645.8 311.3,621.9 320.4,625.3 329.1,631 337.1,634.4 347.3,641.2 356.4,645.8 365.5,650.3 373.5,654.9 381.4,664 389.4,671.9 397.3,681 405.3,691.3 414.4,697 423.5,700.4 432.6,708.3 440.6,722 449.7,737.9 458.8,753.8 467.9,772 474.8,785.2 483.7,813.1 492.5,837.2 501.4,863.9 510.3,884.2 520.5,917.2 528.1,947.6 537.6,985.7 545.2,1013.6 555.4,1036.4 565.5,1044 574.4,1041.5 583.3,1031.4 593.4,1008.5 603.6,983.1 613.7,957.8 626.4,924.8 639.1,889.3 651.8,858.8 664.5,836 674.6,818.2 683.5,804.3 692.4,800.4 700,797.9 712.9,783.4 724.3,772 735.6,760.7 749.3,752.7 760.2,744.4 772.7,745.5 786.4,746.6 802.3,743.9 818.2,746.6 834.2,748.9 847.8,748.9 861.5,743.2 872.8,738.7 881.9,742.1 891,752.3 900.1,763.7 909.2,767.1 922.9,766 934.3,772.8 942.2,772.8 951,747 957.8,703.8 965.8,635.5 971.5,590 976.5,550.2" fill="none" stroke="#689F38" stroke-width="3.5" stroke-linejoin="round" stroke-linecap="butt"/>
</g>
<rect x="115.3" y="542.9" width="864.6" height="506.7" fill="none" stroke="#000" stroke-width="2.2"/>
<line x1="106.5" y1="1049.6" x2="115.3" y2="1049.6" stroke="#000" stroke-width="2"/>
<text x="98.5" y="1060.6" font-size="31" text-anchor="end">0</text>
<line x1="106.5" y1="908.8" x2="115.3" y2="908.8" stroke="#000" stroke-width="2"/>
<text x="98.5" y="919.8" font-size="31" text-anchor="end">50</text>
<line x1="106.5" y1="767.9" x2="115.3" y2="767.9" stroke="#000" stroke-width="2"/>
<text x="98.5" y="778.9" font-size="31" text-anchor="end">100</text>
<line x1="106.5" y1="627.1" x2="115.3" y2="627.1" stroke="#000" stroke-width="2"/>
<text x="98.5" y="638.1" font-size="31" text-anchor="end">150</text>
<line x1="221.3" y1="1049.6" x2="221.3" y2="1058.6" stroke="#000" stroke-width="2"/>
<text x="221.3" y="1089.3" font-size="31" text-anchor="middle">0.2</text>
<line x1="329.7" y1="1049.6" x2="329.7" y2="1058.6" stroke="#000" stroke-width="2"/>
<text x="329.7" y="1089.3" font-size="31" text-anchor="middle">0.4</text>
<line x1="438" y1="1049.6" x2="438" y2="1058.6" stroke="#000" stroke-width="2"/>
<text x="438" y="1089.3" font-size="31" text-anchor="middle">0.6</text>
<line x1="546.4" y1="1049.6" x2="546.4" y2="1058.6" stroke="#000" stroke-width="2"/>
<text x="546.4" y="1089.3" font-size="31" text-anchor="middle">0.8</text>
<line x1="654.8" y1="1049.6" x2="654.8" y2="1058.6" stroke="#000" stroke-width="2"/>
<text x="654.8" y="1089.3" font-size="31" text-anchor="middle">1.0</text>
<line x1="763.1" y1="1049.6" x2="763.1" y2="1058.6" stroke="#000" stroke-width="2"/>
<text x="763.1" y="1089.3" font-size="31" text-anchor="middle">1.2</text>
<line x1="871.5" y1="1049.6" x2="871.5" y2="1058.6" stroke="#000" stroke-width="2"/>
<text x="871.5" y="1089.3" font-size="31" text-anchor="middle">1.4</text>
<text transform="translate(26.3,938.6) rotate(-90)" font-size="35.2">Free Energy, meV</text>
<text x="547" y="1135.1" font-size="35.2" text-anchor="middle">Ni magnetic moment, <tspan font-style="italic">μ</tspan><tspan font-size="24.5" dy="6">B</tspan></text>
<text x="25" y="591.3" font-size="36" font-weight="bold">b</text>
<line x1="518.3" y1="587.4" x2="552.4" y2="587.4" stroke="#689F38" stroke-width="4"/>
<text x="574" y="597.9" font-size="31">600 K</text>
<line x1="518.3" y1="623.4" x2="552.4" y2="623.4" stroke="#F57C00" stroke-width="4"/>
<text x="574" y="633.9" font-size="31">500 K</text>
<line x1="518.3" y1="659.4" x2="552.4" y2="659.4" stroke="#1976D2" stroke-width="4"/>
<text x="574" y="669.9" font-size="31">300 K</text>
<line x1="518.3" y1="695.4" x2="552.4" y2="695.4" stroke="#7B1FA2" stroke-width="4"/>
<text x="574" y="705.9" font-size="31">200 K</text>
<line x1="518.3" y1="731.4" x2="552.4" y2="731.4" stroke="#C2185B" stroke-width="4"/>
<text x="574" y="741.9" font-size="31">100 K</text>
<line x1="775" y1="262" x2="775" y2="830" stroke="#1976D2" stroke-width="2.1"/>
<polygon points="775,247.9 768.4,265.6 775,263.2 781.6,265.6" fill="#1976D2"/>
<polygon points="775,844.4 768.4,826.7 775,829.1 781.6,826.7" fill="#1976D2"/>
<g clip-path="url(#cc)">
<polyline points="1032.2,444.8 1034.3,445.2 1037.2,445.2 1040.7,444 1044.4,443.1 1048.3,443.2 1051.9,444 1054.9,443.2 1058,442.2 1061.1,441.8 1064.2,442.4 1067.4,443.5 1070.6,443.4 1073.7,442.9 1076.8,441.7 1079.9,442.1 1083.1,441.7 1086.2,441.1 1089.3,438.9 1092.5,438.6 1095.6,438.5 1098.8,438.2 1102,437.5 1105.2,436.9 1108.4,436.6 1111.6,436.4 1114.6,435.4 1117.5,433.2 1120.7,431.6 1123.7,429.3 1126.7,428.5 1129.5,425.7 1132.3,424.6 1135,422.5 1137.7,421.5 1140.4,421.3 1143.1,419.8 1145.6,418.1 1148,413.7 1150.3,411.1 1152.1,408.6 1153.8,406.5 1155.4,404 1156.9,400.7 1158.4,397.3 1159.8,394.5 1161.2,391.3 1162.8,389.7 1164.4,386.5 1165.9,384.6 1167.3,380.9 1168.7,378.6 1170,374.6 1170.8,372.5 1171.6,369.4 1172.3,367.5 1173,364.4 1173.7,361.5 1174.4,357.5 1175.1,354.5 1175.8,351.5 1176.5,349.5 1177.2,346.1 1177.8,343.3 1178.5,339.8 1179.1,337.2 1179.8,334.1 1180.5,330.9 1181.1,327.4 1181.8,323.6 1182.4,320 1183.1,317.1 1183.6,315.6 1184.1,313.4 1184.7,310.6 1185.2,307.2 1185.7,304 1186.3,300.4 1186.8,297.3 1187.3,294.6 1187.8,291.3 1188.3,287.4 1188.8,284.5 1189.3,281.7 1189.7,279.6 1190.2,275.7 1190.7,271.5 1191.1,268.6 1191.5,265.5 1191.9,262.7 1192.3,258.5 1192.7,254.4 1193,250.8 1193.4,247.5 1193.7,245.1 1194,243.8 1194.7,239 1195.2,236.4 1196.2,232.8 1196.9,229.5 1197.8,226.7 1198.8,223.2 1199.9,220 1200.9,215.4 1201.9,211.3 1202.8,208.8 1204.1,205.9 1205.1,203.7 1206.2,200.4 1207.2,198.2 1211.5,197.7 1212.3,196 1213.1,192 1214,188.6 1214.9,185.9 1215.9,183.5 1216.6,179.9 1217.4,175.5 1218.3,171.9 1219.2,170.1 1220.1,167.3 1221,164.2 1221.8,160.9 1222.5,158.3 1224.1,155.2 1225.4,151.9 1226.8,149 1227.8,145.1 1228.9,142 1229.9,138.9 1231.2,136.7 1233.3,135.8 1235.7,137.9 1237.8,140.7 1239.5,144.7 1240.9,149.2 1242.2,153 1243.2,156.4 1244,158.7 1245,162.2 1245.6,164.2 1246.4,167 1247.1,170.5 1247.9,173.3 1248.7,176.2 1249.4,178.4 1250,182.4 1250.6,186.4 1251.2,190.4 1251.8,192.8 1252.4,194.7 1253,197.9 1253.7,200.8 1255,205.7 1256.4,208.1 1257.9,209.9 1259.2,210.8 1260,214.2 1260.8,218 1261.5,222 1262.3,225 1262.9,227.5 1263.6,232.8 1264.7,237.5 1265.6,241.8 1266.9,243.8 1268,245.1 1269.3,247.9 1270.7,250.5 1272.1,255 1273.4,256.9 1274.9,260.7 1276.3,264.3 1277.6,269.1 1278.9,271.3 1283.3,273.2 1284.3,275.2 1285.3,279.4 1286.5,283.3 1287.6,286.2 1288.8,288.7 1289.8,291.1 1292.5,293.3 1295.3,296.4 1296.4,299.7 1297.5,304.1 1298.7,306.9 1299.8,310 1300.9,311.5 1301.9,313.6 1306.2,314.1 1307.6,315.7 1309.2,318.7 1311,323 1312.9,327.6 1315,331.2 1316.7,333.2 1318.6,335.1 1320.7,337.4 1322.7,340 1324.7,342.5 1326.5,344.3 1328.1,346 1330.1,349.8 1331.5,353.2 1332.9,356.1 1334.7,359.5 1336.6,362.1 1338.6,365.2 1340.9,367.8 1343.2,370.1 1345.6,371.4 1348.1,373.8 1350.7,376.5 1353.3,380.6 1356,382.7 1358.7,385.5 1361.9,387.1 1365.2,387.3 1368.5,388.3 1371.9,388.7 1374.9,390.2 1378.1,390.3 1381.3,391.7 1384.4,393 1387.2,394.3 1391.1,393.8 1394.5,393.6 1398.1,392.9 1401.3,394.9 1404.8,397.1 1408.2,399.4 1411.2,400.6 1415.5,400.5 1420,401.3 1422.7,401.4 1425.9,401.8 1429.2,402 1432.4,404.3 1435.3,406 1439.2,407.2 1442.6,407.1 1446.2,407.3 1449.3,408.1 1452.5,408.5 1455.8,408.9 1459.3,408.5 1462.2,408.4 1465.1,409.4 1468.2,410.1 1471.4,410.2 1474.7,409.1 1477.8,408.6 1481.4,408.3 1485,407.7 1488.4,407.3 1491.2,406.9 1493.3,407" fill="none" stroke="#1976D2" stroke-width="4.0" stroke-linejoin="round" stroke-linecap="butt"/>
<polyline points="1032.2,400.6 1034.3,400.6 1037.2,400.7 1040.7,400.7 1044.4,400.6 1048.3,400.5 1051.9,400.4 1054.9,400 1058.1,399.5 1061.3,398.3 1064.5,398 1067.7,398.1 1070.8,398.4 1073.7,398.5 1077.5,398.4 1081.1,398.2 1084.6,397.7 1087.9,397.1 1091.2,396.3 1094.5,395.4 1097.6,394.7 1100.7,393.9 1103.7,393.3 1106.6,392.8 1110.1,391.9 1113.4,390.5 1116.6,388.5 1119.7,387.4 1122.6,386 1125.4,384.7 1128.1,382.6 1130.6,380.8 1133,378.4 1135.3,375.5 1137.4,372.3 1139.4,369.1 1141.2,366.3 1142.9,363.7 1144.4,360.8 1145.9,356.7 1146.7,354 1147.6,350.4 1148.4,347.3 1149.2,343.8 1149.9,340.7 1150.7,338.1 1151.4,334.3 1152.1,331.5 1152.8,328.4 1153.4,325.8 1154.1,322.5 1154.7,319.3 1155.2,315.9 1155.8,312.7 1156.3,309.9 1156.8,307.1 1157.3,304.2 1157.8,301.2 1158.2,298 1158.6,295 1159,291.5 1159.3,288.6 1159.6,285.3 1159.8,282.3 1160,279.7 1160.3,276.1 1160.5,273.1 1160.7,269.7 1161,267 1161.2,263.5 1161.4,260.4 1161.6,257.1 1161.9,253.6 1162.1,249.5 1162.3,246.2 1162.5,243 1162.7,239.9 1163,236.4 1163.2,233.2 1163.4,229.6 1163.7,226.3 1164,222.9 1164.2,221.5 1164.5,219.5 1164.8,217.9 1165.2,213.9 1165.6,208.3 1165.8,205.6 1165.9,202.8 1166.1,200.3 1166.3,197.5 1166.5,195.3 1166.7,191.8 1166.9,188.7 1167.2,185.5 1167.4,182.8 1167.6,179.5 1167.8,177 1168.1,173.1 1168.3,169.5 1168.5,165 1168.8,161.5 1169,158.5 1169.2,155.3 1169.4,151.9 1169.6,148.3 1169.8,145.3 1170,142.2 1170.2,138.9 1170.4,135.1 1170.6,132.7 1170.7,129.3 1170.9,125.8 1171.1,121.5 1171.2,118.5 1171.4,115 1171.5,112.4 1171.7,108.1 1171.8,104.9 1172,101 1172.1,98.2 1172.3,95.2 1172.5,92.7 1172.7,90 1172.9,87.2 1173.1,85.1 1173.3,83.5 1174.1,78.2 1175,73.8 1175.9,69.8 1176.9,68.2 1177.8,66.2 1178.7,65.4 1183.1,66.8 1183.6,68.7 1184.2,71.1 1184.9,72.9 1185.6,75.8 1186.3,78.7 1187,82.5 1187.7,86.2 1188.5,90 1189.2,93.7 1189.9,97.6 1190.6,100.8 1191.3,104.3 1191.9,107.3 1192.6,111.4 1193.2,114 1193.8,117.7 1194.4,120.2 1195,123.1 1195.6,125.6 1196.1,128.9 1196.7,132.3 1197.2,134.9 1197.8,137.7 1198.4,140.4 1199.5,144.3 1200.6,147.2 1201.8,149.8 1202.9,152.8 1204,155.8 1205,157.9 1207.8,161.9 1210.4,163.7 1213.2,163.7 1215.9,160.9 1217.1,158.5 1218.2,154.7 1219.2,150.9 1220.3,146.5 1221.1,143.8 1221.9,140.6 1222.6,137.3 1223.5,134.1 1224.7,130.9 1226.2,128.6 1227.9,125.4 1229.7,122.4 1231.6,119.4 1233.4,116.8 1235.6,114.4 1237.9,112.6 1240.2,111.1 1242.2,108.6 1243.4,106.2 1244.5,103.3 1245.5,100.7 1246.4,97.6 1247.5,94.4 1248.7,90.2 1249.4,88.3 1250,85 1250.7,82.1 1251.5,78.7 1252.2,76.2 1253,72.7 1253.7,69 1254.5,65.6 1255.3,63.2 1256,60.8 1256.8,57.6 1257.5,54.7 1258.5,51.2 1259.4,48.1 1260.4,44.2 1261.4,40.3 1262.3,36.7 1263.3,34.4 1264.3,31.9 1265.2,30.1 1266.2,28 1269.3,26.6 1272.3,28.4 1275,32.3 1275.9,34.5 1276.7,37.3 1277.4,40.8 1278.1,44.2 1278.7,48.2 1279.3,51.8 1280,55.7 1280.5,58.3 1281,61.2 1281.5,64.8 1282,68 1282.4,71.2 1282.9,74.7 1283.3,78.4 1283.8,82 1284.1,85 1284.5,87.9 1284.9,91.9 1285.2,94.7 1285.5,97.6 1285.7,100 1286,103.1 1286.3,105.8 1286.6,108.9 1287,112.3 1287.4,115.2 1287.8,118.6 1288.3,121.6 1288.8,124.7 1289.3,127.8 1289.8,131.3 1290.3,134.9 1290.8,138 1291.4,141.7 1291.9,144.9 1292.5,148.8 1293.1,151.3 1293.6,154.1 1294.2,157.2 1294.8,160.8 1295.5,164.4 1296.1,167.4 1296.7,170 1297.3,173 1298,176.4 1298.6,180.3 1299.2,183.3 1299.7,186.1 1300.3,188.6 1300.8,192.2 1301.4,195.7 1301.9,199 1302.5,202.3 1303,205.2 1303.5,208.6 1304.1,211.9 1304.7,214.6 1305.2,217.9 1305.8,220.9 1306.3,223.9 1306.8,226.3 1307.3,228.4 1307.9,231.9 1308.4,235.2 1308.9,238.1 1309.5,240.8 1310,243.3 1310.6,246.3 1311.2,249.2 1311.9,252.1 1312.6,255.4 1313.3,258.4 1314.1,261.4 1315,264.4 1315.9,267.2 1317,270.6 1318,272.9 1319.2,276.4 1320.4,278.9 1321.6,281.9 1322.9,284.6 1324.3,287.3 1325.7,290.3 1327.2,293.2 1328.7,296.3 1330.3,299.5 1332,302.1 1333.7,304.9 1335.5,307.4 1337.3,310.1 1339.2,312.5 1341.2,315.2 1343.2,317.8 1345.4,319.7 1347.5,321.4 1349.8,324 1352.1,326.7 1354.4,329.3 1356.8,330.7 1359.3,332.6 1361.8,334.8 1364.4,336.2 1367,337.7 1369.7,338.7 1372.4,340.2 1375.2,341.6 1378,343.2 1381,345.1 1384,347.1 1387.2,348.2 1390.1,349.1 1393.1,350.8 1396.2,352.6 1399.4,354.6 1402.6,355.3 1405.8,356.3 1409,357.7 1412.1,358.4 1415.2,359.3 1418.4,359.7 1421.5,360.8 1424.6,361.3 1427.8,361.8 1430.9,362.6 1434,363.2 1437.2,363.6 1440.3,364.1 1443.4,365.5 1446.5,365.4 1449.7,365.4 1452.8,365.3 1456,366.1 1459.2,366.5 1462.4,366.7 1465.5,367.4 1468.7,367.7 1471.7,368.3 1474.7,368.5 1478.2,369 1481.8,369 1485.4,368.4 1488.6,367.9 1491.3,367.5 1493.3,367.6" fill="none" stroke="#F57C00" stroke-width="4.0" stroke-linejoin="round" stroke-linecap="butt"/>
<polyline points="1032.2,403 1034.3,402.5 1037.2,401.9 1040.7,401.4 1044.4,401.6 1048.3,401.9 1051.9,401.7 1054.9,401.3 1058.1,400.7 1061.3,400.1 1064.5,399.7 1067.7,399.5 1070.8,399.6 1073.7,399.5 1077.5,398.8 1081.1,398.4 1084.6,397.8 1087.9,398 1091.2,397.7 1094.5,397.3 1097.6,395.9 1100.7,395.1 1103.7,393.8 1106.6,393.9 1110.1,392.3 1113.4,391.4 1116.6,390 1119.7,388.3 1122.6,386.8 1125.4,384.6 1128.1,383.2 1130.6,381 1133,379.1 1135.3,376.5 1137.4,374 1139.4,371 1141.2,367.7 1142.9,365 1144.4,361.5 1145.9,357.6 1146.7,354.3 1147.6,351.7 1148.4,349.2 1149.2,346 1149.9,342.4 1150.7,338.2 1151.4,335.5 1152.1,332.3 1152.8,329.3 1153.4,325.7 1154.1,322.4 1154.7,319.2 1155.2,316.5 1155.8,313.6 1156.3,310.5 1156.8,307.3 1157.3,304.6 1157.8,301.7 1158.2,298.7 1158.6,295.4 1159,291.5 1159.3,288.4 1159.6,284.6 1159.8,281.8 1160,278.8 1160.3,276.4 1160.5,272.6 1160.7,269.1 1161,265.5 1161.2,262.1 1161.4,259.3 1161.6,256.5 1161.9,253.3 1162.1,249.7 1162.3,246.3 1162.5,242.9 1162.7,239.7 1163,236.4 1163.2,234.2 1163.4,230.7 1163.7,226.6 1164,223.6 1164.2,222.2 1164.5,219.9 1164.8,216.9 1165.2,212.4 1165.6,207.7 1165.8,205.5 1165.9,203.6 1166.1,200.8 1166.3,198.5 1166.5,195.5 1166.7,192.4 1166.9,189.2 1167.1,185.9 1167.3,182.1 1167.6,178.2 1167.8,174.9 1168,171.7 1168.2,168.3 1168.5,164.6 1168.7,162.1 1168.9,158.7 1169.1,155.5 1169.4,151.5 1169.6,148.3 1169.8,145.5 1170,142.8 1170.3,139.4 1170.6,135.1 1170.8,131.6 1171.1,128.2 1171.4,125.1 1171.7,120.6 1171.9,117.1 1172.2,113.5 1172.5,111 1172.8,107.8 1173,104.9 1173.3,102.4 1173.6,99.8 1173.9,97.7 1174.1,94.6 1174.4,92.1 1174.9,87.7 1175.5,84.1 1176,80.4 1176.6,76.6 1177.1,73.5 1177.6,71.3 1178.2,69.6 1178.7,68.1 1183.1,67.2 1184.1,68.9 1185,71.3 1186.1,74.8 1187.5,79.4 1188.2,81.6 1189,83.9 1189.9,86.7 1190.9,89.7 1191.8,92.7 1192.8,96.1 1193.8,99.5 1194.7,103.4 1195.5,106.4 1196.2,109.5 1196.9,113 1197.5,116.7 1197.9,120.3 1198.3,123.6 1198.7,126.9 1199.2,130.2 1199.8,133.4 1200.6,136 1202.8,139.8 1205.4,143.3 1208.1,146.1 1210.4,146.7 1212.5,145.6 1214.1,141.8 1215.9,138.5 1217.2,136 1218.5,132.9 1219.8,130 1221.2,126.2 1222.5,122.8 1223.4,119.6 1224.4,116.3 1225.3,112.8 1226.3,108.8 1227.2,105.2 1228.1,102.3 1229,100.1 1234.5,100.4 1237,98.8 1240,94.9 1240.9,92.1 1241.9,88.9 1243,85 1244.1,82.2 1245.3,79.1 1246.4,76.5 1247.6,72.8 1248.7,69.4 1249.7,66.4 1250.7,63.4 1251.8,60.6 1252.9,57.4 1253.9,54.2 1254.9,50.3 1255.8,46.7 1256.7,44.3 1257.5,42 1258.6,38.2 1259.5,34.1 1260.3,31.1 1261,28.4 1261.8,26.1 1266.2,22.7 1270.6,25.4 1272.1,28 1273.6,30.6 1275,35.2 1275.5,37.2 1275.9,40.1 1276.3,43.1 1276.7,46.1 1277.1,49.7 1277.6,53.7 1278,57.4 1278.5,60.6 1279,63.4 1279.5,66.3 1280.1,69.6 1280.6,72.7 1281.2,76 1281.8,78.8 1282.3,82 1282.8,84.6 1283.3,87.8 1283.9,91.2 1284.4,95.2 1284.8,98 1285.3,100.8 1285.7,103.7 1286.1,106.5 1286.6,109.6 1287.1,112.3 1287.5,114.8 1287.9,118.1 1288.3,121 1288.8,124.6 1289.3,127.4 1289.8,131.2 1290.3,134.4 1290.8,138.2 1291.4,141.9 1291.9,145.3 1292.5,148.4 1293.1,151.4 1293.6,154.4 1294.2,157.3 1294.8,160.7 1295.5,163.9 1296.1,166.5 1296.7,169.2 1297.3,172.5 1298,176.5 1298.6,179.8 1299.2,182.5 1299.7,185.4 1300.3,189.5 1300.8,193.2 1301.4,196.4 1301.9,199.9 1302.5,202.9 1303,206.5 1303.5,209.7 1304.1,213.2 1304.7,216 1305.2,218.6 1305.8,221.5 1306.3,224.5 1306.8,228.1 1307.3,231 1307.9,234.4 1308.4,237.1 1308.9,239.5 1309.5,242.3 1310,245.2 1310.6,248.2 1311.2,250.9 1311.9,254.1 1312.6,256.9 1313.3,260.5 1314.1,263.4 1315,267 1315.9,269.2 1317,272 1318,274.1 1319.2,277.1 1320.4,279.5 1321.6,282.6 1322.9,285.5 1324.3,289.1 1325.7,292.6 1327.2,295.6 1328.7,298.1 1330.3,300.3 1332,302.8 1333.7,305 1335.5,307.8 1337.3,310.8 1339.2,313.5 1341.2,316.1 1343.2,318.1 1345.4,320.6 1347.5,322.8 1349.8,325.7 1352.1,328.1 1354.4,330.6 1356.8,332.1 1359.3,333.7 1361.8,334.6 1364.4,336.1 1367,337.6 1369.7,340 1372.4,341.9 1375.2,343.4 1378,345 1381,346.7 1384,348 1387.2,349 1390.1,350.3 1393.1,352 1396.2,353.4 1399.4,354.8 1402.6,356.5 1405.8,358 1409,359.1 1412.1,359.8 1415.2,361.2 1418.4,362 1421.5,363.5 1424.6,363.5 1427.8,364.2 1430.9,364.3 1434,365 1437.2,365.4 1440.3,365.9 1443.4,366.6 1446.5,367 1449.7,367.4 1452.8,367.7 1456,368.4 1459.2,368.8 1462.4,369.2 1465.5,369.2 1468.7,369 1471.7,368.8 1474.7,368.6 1478.2,368.8 1481.8,368.7 1485.4,368.2 1488.6,368.4 1491.3,368.2 1493.3,368.5" fill="none" stroke="#D32F2F" stroke-width="4.0" stroke-linejoin="round" stroke-linecap="butt"/>
<polyline points="1032.2,402.5 1034.3,401.8 1037.2,400.9 1040.7,400.5 1044.4,400.8 1048.3,401 1051.9,400.4 1054.9,399.8 1058.1,399.9 1061.3,399.6 1064.5,399.7 1067.7,399.1 1070.8,399.2 1073.7,398.8 1077.5,398.1 1081.1,397.6 1084.6,397.4 1087.9,397 1091.2,396.4 1094.5,395.1 1097.6,394.5 1100.7,394.2 1103.7,394.1 1106.6,393.5 1110.1,392.3 1113.4,390.9 1116.6,389.4 1119.7,388 1122.6,386.3 1125.4,385 1128.1,383.1 1130.6,380.8 1133,377.8 1135.3,375.1 1137.4,372.5 1139.4,369.6 1141.2,366.5 1142.9,363.7 1144.4,360.8 1145.9,357.2 1146.7,354.3 1147.6,351.4 1148.4,348.3 1149.2,345.3 1149.9,342.3 1150.7,338.6 1151.4,335.3 1152.1,331.8 1152.8,328.7 1153.4,325.6 1154.1,322.4 1154.7,319.4 1155.2,316.2 1155.8,312.9 1156.3,309.8 1156.8,306.5 1157.3,303.7 1157.8,300.5 1158.2,297.7 1158.6,294.1 1159,290.9 1159.3,288 1159.6,285.3 1159.8,282.1 1160,279.1 1160.3,276.3 1160.5,272.8 1160.7,269.6 1161,265.9 1161.2,262.9 1161.4,259.3 1161.6,256.3 1161.9,253.1 1162.1,250.1 1162.3,246.2 1162.5,242.5 1162.7,239.2 1163,236.2 1163.2,233.2 1163.4,230.1 1163.7,226.7 1164,224.1 1164.2,221.8 1164.5,219.4 1164.8,217 1165.2,213.6 1165.6,208.3 1165.8,206.2 1165.9,203.5 1166.1,200.7 1166.3,198.1 1166.5,195 1166.7,192.2 1166.9,188.5 1167.1,185.3 1167.3,181.8 1167.6,178.4 1167.8,174.9 1168,171.2 1168.2,167.5 1168.5,164.3 1168.7,161.1 1168.9,157.7 1169.1,154.1 1169.4,150.5 1169.6,147.3 1169.8,144.2 1170,142.2 1170.3,138.5 1170.6,134.4 1170.9,130.3 1171.3,126.8 1171.6,124 1171.9,120.9 1172.2,117.8 1172.5,114.6 1172.8,111.1 1173.2,108.6 1173.5,105.7 1173.8,103.3 1174.1,101.1 1174.4,98.8 1175.1,94 1175.8,89.5 1176.6,86.5 1177.3,83.8 1178,81.6 1178.7,79.3 1180.2,74.8 1181.6,70.9 1183.1,70 1184.2,71.5 1185.3,75.8 1186.4,79.9 1187.5,83.6 1189.7,85.3 1191.9,87.7 1192.8,89.8 1193.6,92.8 1194.5,96 1195.3,99.3 1196.2,102.6 1196.9,105.6 1197.7,109 1198.4,112.4 1199.1,115.8 1199.9,119.6 1200.6,122.4 1202,126.4 1203.5,128.8 1205,131.2 1207.6,135.3 1210.4,137 1212.2,136 1214.1,133 1215.9,129.6 1217.3,126.6 1218.7,124.1 1220,120.2 1221.4,116.4 1222.2,113.7 1223,110 1223.8,106.5 1224.6,103 1225.3,99.9 1226.1,96.7 1226.8,93.7 1228.3,89.5 1229.8,86 1231.2,84.2 1235.6,86.5 1236.8,84.7 1238.2,81.5 1239.6,77.5 1241,74.3 1242.2,71.6 1246.5,68.7 1247.2,66.2 1248,64.2 1248.8,60.8 1249.7,57.6 1250.5,53.3 1251.4,49.7 1252.3,46.4 1253.1,43.9 1255.3,40.3 1257.5,37.9 1259.7,35.9 1261.8,30.9 1263.8,26.4 1266,24.9 1267.2,26.1 1268.6,29.2 1269.9,32.3 1271.3,36.3 1272.5,40 1273.6,43.3 1274.4,46.1 1275,48.2 1275.6,51.2 1276.1,54.6 1276.6,58.1 1277.2,62 1277.8,65.5 1278.5,69.3 1279.3,71.9 1280.2,74.6 1281,77.3 1281.9,80.9 1282.6,84.5 1283.3,87.9 1283.9,90.8 1284.4,93.8 1284.9,97.1 1285.3,100 1285.7,102.9 1286.2,106 1286.6,109.5 1287.1,112.9 1287.5,115.8 1287.9,118.8 1288.3,121.9 1288.8,124.8 1289.3,128.2 1289.8,131.7 1290.3,134.9 1290.8,137.7 1291.4,140.7 1291.9,143.8 1292.5,147 1293.1,150.2 1293.6,153.7 1294.2,157.1 1294.8,160.7 1295.5,163.7 1296.1,166.6 1296.7,169.4 1297.3,172.5 1298,175.9 1298.6,179.2 1299.2,182.7 1299.7,185.3 1300.3,188.9 1300.8,191.9 1301.4,195.9 1301.9,199.3 1302.5,202.5 1303,205.7 1303.5,209 1304.1,212.7 1304.7,216 1305.2,218.8 1305.8,222 1306.3,224.5 1306.8,227.4 1307.3,229.2 1307.9,232.6 1308.4,235.4 1308.9,238.7 1309.5,241.1 1310,244.7 1310.6,247.7 1311.2,251.5 1311.9,254.2 1312.6,257 1313.3,259.6 1314.1,262.3 1315,264.7 1315.9,267.3 1317,270 1318,273.6 1319.2,276.5 1320.4,279.5 1321.6,282.1 1322.9,285.5 1324.3,288.6 1325.7,291.5 1327.2,294 1328.7,297.1 1330.3,300.3 1332,303.3 1333.7,305.8 1335.5,308.1 1337.3,310.7 1339.2,312.9 1341.2,315.5 1343.2,318.2 1345.4,321.2 1347.5,323.8 1349.8,325.8 1352.1,328 1354.4,329.7 1356.8,331.5 1359.3,333 1361.8,334.4 1364.4,336.1 1367,337.2 1369.7,339.4 1372.4,341.2 1375.2,343.4 1378,344.5 1381,345.8 1384,347.2 1387.2,348.6 1390.1,350 1393.1,351.2 1396.2,353.1 1399.4,354.8 1402.6,356.6 1405.8,357.3 1409,357.7 1412.1,358.7 1415.2,360.1 1418.4,361.5 1421.5,362 1424.6,362.6 1427.8,363.5 1430.9,364.2 1434,364.9 1437.2,364.7 1440.3,365 1443.4,365.6 1446.5,366.4 1449.7,367 1452.8,367 1456,367.5 1459.2,367.5 1462.4,367.9 1465.5,368.3 1468.7,369.2 1471.7,369.4 1474.7,369.2 1478.2,368.7 1481.8,368.6 1485.4,368.4 1488.6,368.4 1491.3,368.3 1493.3,368.3" fill="none" stroke="#7B1FA2" stroke-width="4.0" stroke-linejoin="round" stroke-linecap="butt"/>
</g>
<rect x="1031.5" y="1.1" width="462.4" height="472.2" fill="none" stroke="#000" stroke-width="2"/>
<line x1="1070.9" y1="473.3" x2="1070.9" y2="481.5" stroke="#000" stroke-width="2"/>
<text x="1070.9" y="512.2" font-size="28.8" text-anchor="middle">850</text>
<line x1="1270.2" y1="473.3" x2="1270.2" y2="481.5" stroke="#000" stroke-width="2"/>
<text x="1270.2" y="512.2" font-size="28.8" text-anchor="middle">855</text>
<line x1="1469.5" y1="473.3" x2="1469.5" y2="481.5" stroke="#000" stroke-width="2"/>
<text x="1469.5" y="512.2" font-size="28.8" text-anchor="middle">860</text>
<text x="1256.8" y="548" font-size="33" text-anchor="middle">Energy, eV</text>
<text transform="translate(1021.9,376.5) rotate(-90)" font-size="30.5">IPFY intensity, arb.u.</text>
<text x="996.3" y="45.5" font-size="36" font-weight="bold">c</text>
<text x="1322.5" y="40" font-size="33">Ni L<tspan font-size="23" dy="5">3</tspan><tspan dy="-5"> IPFY</tspan></text>
<line x1="1324.2" y1="71.5" x2="1354.8" y2="71.5" stroke="#7B1FA2" stroke-width="3.6"/>
<text x="1375.5" y="81.8" font-size="28.5">Li</text>
<text x="1482" y="81.8" font-size="28.5" text-anchor="end">375 K</text>
<line x1="1324.2" y1="111.3" x2="1354.8" y2="111.3" stroke="#D32F2F" stroke-width="3.6"/>
<text x="1375.5" y="121.6" font-size="28.5">Li</text>
<text x="1482" y="121.6" font-size="28.5" text-anchor="end">300 K</text>
<line x1="1324.2" y1="151.1" x2="1354.8" y2="151.1" stroke="#F57C00" stroke-width="3.6"/>
<text x="1375.5" y="161.4" font-size="28.5">Li</text>
<text x="1482" y="161.4" font-size="28.5" text-anchor="end">20 K</text>
<line x1="1324.2" y1="190.9" x2="1354.8" y2="190.9" stroke="#1976D2" stroke-width="3.6"/>
<text x="1375.5" y="201.2" font-size="28.5">Na</text>
<text x="1482" y="201.2" font-size="28.5" text-anchor="end">10 K</text>
<polygon points="1111.3,875.6 1130.2,864 1150.1,855.7 1168,852.5 1186.9,861 1208.9,872.5 1228.9,871.4 1244.6,861 1256.2,847.3 1267.7,846.2 1289.6,867.1 1321.9,939.9 1340.8,950.6 1357.4,955.8 1401,962 1486,1047.5 1486,1048.5 1401,1012.7 1357.4,977 1340.8,975.2 1321.9,975.2 1289.6,946.7 1267.7,893.3 1256.2,889.3 1244.6,899.8 1228.9,899.8 1208.9,899.8 1186.9,891.4 1168,886.1 1150.1,888.2 1130.2,898 1111.3,907.1" fill="#7B1FA2" fill-opacity="0.4"/>
<polygon points="1111.3,889.3 1130.2,906 1150.1,925 1168,939.7 1186.9,950 1208.9,962.8 1228.9,976.5 1244.6,986.9 1256.2,1000.6 1267.7,1007.5 1289.6,999.7 1321.9,1000.6 1357.4,1018.8 1401,1030.2 1486,1047.8 1486,1048.5 1401,1043.9 1357.4,1029.7 1321.9,1015.7 1289.6,1027 1267.7,1028.4 1256.2,1022.6 1244.6,1009 1228.9,992 1208.9,977.5 1186.9,968 1168,957.5 1150.1,943.9 1130.2,922 1111.3,897.7" fill="#689F38" fill-opacity="0.4"/>
<polygon points="1111.3,881.9 1130.2,872 1150.1,860.9 1168,848.3 1186.9,830 1208.9,809.5 1228.9,796 1244.6,789 1256.2,784.4 1267.7,771.9 1289.6,726.4 1322.4,696.2 1356.7,677.6 1401.5,619.2 1486,575 1486,575.6 1401.5,678.7 1356.7,689.9 1322.4,720.5 1289.6,781 1267.7,799.2 1256.2,803.8 1244.6,803.8 1228.9,815 1208.9,828.8 1186.9,852 1168,867.2 1150.1,876.7 1130.2,889 1111.3,897.7" fill="#C2185B" fill-opacity="0.4"/>
<polyline points="1111.3,891.4 1130.2,880.9 1150.1,871.4 1168,869.3 1186.9,875.6 1208.9,886.1 1228.9,885.5 1244.6,880.9 1256.2,867.9 1267.7,869.3 1289.6,906.9 1321.9,957.4 1340.8,962 1357.4,965.6 1401,987.7 1486,1048" fill="none" stroke="#7B1FA2" stroke-width="3.3" stroke-linejoin="round" stroke-linecap="butt"/>
<polyline points="1111.3,891.4 1130.2,914.5 1150.1,934.4 1168,949.1 1186.9,959.6 1208.9,970.1 1228.9,984.8 1244.6,998.5 1256.2,1011.1 1267.7,1017.4 1289.6,1012.8 1321.9,1007.5 1357.4,1024.1 1401,1037 1486,1048" fill="none" stroke="#689F38" stroke-width="3.3" stroke-linejoin="round" stroke-linecap="butt"/>
<polyline points="1111.3,890.3 1130.2,880.9 1150.1,870.4 1168,857.8 1186.9,841 1208.9,819.7 1228.9,804.9 1244.6,795.8 1256.2,794.7 1267.7,785.6 1289.6,754.5 1322.4,708.2 1356.7,682.6 1401.5,648.7 1486,575.3" fill="none" stroke="#C2185B" stroke-width="3.3" stroke-linejoin="round" stroke-linecap="butt"/>
<rect x="1110.9" y="575.0" width="375" height="474" fill="none" stroke="#000" stroke-width="1.9"/>
<line x1="1103.3" y1="1049" x2="1110.9" y2="1049" stroke="#000" stroke-width="1.9"/>
<line x1="1103.3" y1="1001.6" x2="1110.9" y2="1001.6" stroke="#000" stroke-width="1.9"/>
<line x1="1103.3" y1="954.2" x2="1110.9" y2="954.2" stroke="#000" stroke-width="1.9"/>
<line x1="1103.3" y1="906.8" x2="1110.9" y2="906.8" stroke="#000" stroke-width="1.9"/>
<line x1="1103.3" y1="859.4" x2="1110.9" y2="859.4" stroke="#000" stroke-width="1.9"/>
<line x1="1103.3" y1="812" x2="1110.9" y2="812" stroke="#000" stroke-width="1.9"/>
<line x1="1103.3" y1="764.6" x2="1110.9" y2="764.6" stroke="#000" stroke-width="1.9"/>
<line x1="1103.3" y1="717.2" x2="1110.9" y2="717.2" stroke="#000" stroke-width="1.9"/>
<line x1="1103.3" y1="669.8" x2="1110.9" y2="669.8" stroke="#000" stroke-width="1.9"/>
<line x1="1103.3" y1="622.4" x2="1110.9" y2="622.4" stroke="#000" stroke-width="1.9"/>
<line x1="1103.3" y1="575" x2="1110.9" y2="575" stroke="#000" stroke-width="1.9"/>
<text x="1093.2" y="1060" font-size="31" text-anchor="end">0</text>
<text x="1093.2" y="965.2" font-size="31" text-anchor="end">0.2</text>
<text x="1093.2" y="870.4" font-size="31" text-anchor="end">0.4</text>
<text x="1093.2" y="775.6" font-size="31" text-anchor="end">0.6</text>
<text x="1093.2" y="680.8" font-size="31" text-anchor="end">0.8</text>
<line x1="1110.9" y1="1049" x2="1110.9" y2="1057.5" stroke="#000" stroke-width="1.9"/>
<text x="1110.9" y="1090.3" font-size="31" text-anchor="middle">1</text>
<line x1="1204.7" y1="1049" x2="1204.7" y2="1057.5" stroke="#000" stroke-width="1.9"/>
<text x="1204.7" y="1090.3" font-size="31" text-anchor="middle">0.75</text>
<line x1="1298.4" y1="1049" x2="1298.4" y2="1057.5" stroke="#000" stroke-width="1.9"/>
<text x="1298.4" y="1090.3" font-size="31" text-anchor="middle">0.5</text>
<line x1="1392.2" y1="1049" x2="1392.2" y2="1057.5" stroke="#000" stroke-width="1.9"/>
<text x="1392.2" y="1090.3" font-size="31" text-anchor="middle">0.25</text>
<line x1="1485.9" y1="1049" x2="1485.9" y2="1057.5" stroke="#000" stroke-width="1.9"/>
<text x="1485.9" y="1090.3" font-size="31" text-anchor="middle">0</text>
<text transform="translate(1029.9,1003.8) rotate(-90)" font-size="35.2">Ni species concentration</text>
<text x="1299" y="1131" font-size="34.5" text-anchor="middle"><tspan font-style="italic">x</tspan> in Li<tspan font-size="24" dy="6" font-style="italic">x</tspan><tspan dy="-6">NiO</tspan><tspan font-size="24" dy="6">2</tspan></text>
<text x="996.3" y="591.3" font-size="36" font-weight="bold">d</text>
<line x1="1133" y1="602.8" x2="1163.5" y2="602.8" stroke="#C2185B" stroke-width="3.6"/>
<text x="1182" y="613" font-size="28.8"><tspan font-style="italic">S</tspan> = 0</text>
<line x1="1133" y1="637.5" x2="1163.5" y2="637.5" stroke="#7B1FA2" stroke-width="3.6"/>
<text x="1182" y="647.7" font-size="28.8"><tspan font-style="italic">S</tspan> = ½</text>
<line x1="1133" y1="672.2" x2="1163.5" y2="672.2" stroke="#689F38" stroke-width="3.6"/>
<text x="1182" y="682.4" font-size="28.8"><tspan font-style="italic">S</tspan> = 1</text>
</svg>
</body></html>
